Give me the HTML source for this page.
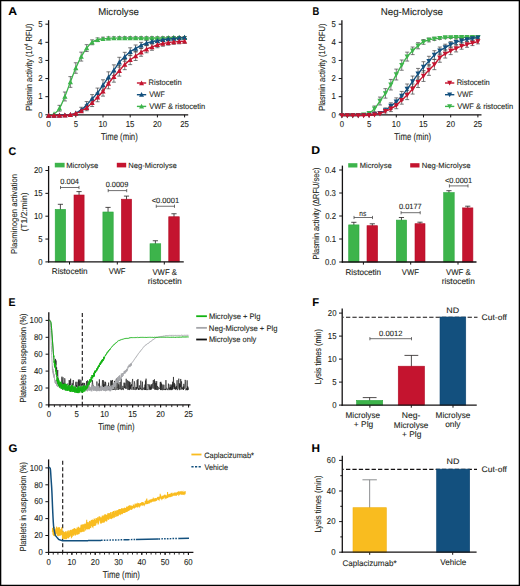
<!DOCTYPE html>
<html><head><meta charset="utf-8"><style>
html,body{margin:0;padding:0;background:#fff;width:520px;height:586px;overflow:hidden;}
svg{display:block;}
text{font-family:"Liberation Sans", sans-serif;text-rendering:geometricPrecision;stroke:#231f20;stroke-width:0.1px;}
</style></head><body>
<svg width="520" height="586" viewBox="0 0 520 586" font-family='"Liberation Sans", sans-serif' fill="#231f20" text-rendering="geometricPrecision">
<text x="8.2" y="14.65" font-size="11.2" textLength="8.83" lengthAdjust="spacingAndGlyphs" font-weight="bold" fill="#000">A</text>
<text x="98.21" y="14.7" font-size="9.7" textLength="40.62" lengthAdjust="spacingAndGlyphs">Microlyse</text>
<line x1="48.6" y1="20.2" x2="48.6" y2="115.45" stroke="#141213" stroke-width="1.3"/>
<line x1="45.4" y1="114.8" x2="48.6" y2="114.8" stroke="#141213" stroke-width="1"/>
<text x="38.17" y="117.55" font-size="8.6" textLength="4.34" lengthAdjust="spacingAndGlyphs">0</text>
<line x1="45.4" y1="96.68" x2="48.6" y2="96.68" stroke="#141213" stroke-width="1"/>
<text x="38.24" y="99.43" font-size="8.6" textLength="4.34" lengthAdjust="spacingAndGlyphs">1</text>
<line x1="45.4" y1="78.56" x2="48.6" y2="78.56" stroke="#141213" stroke-width="1"/>
<text x="38.25" y="81.31" font-size="8.6" textLength="4.34" lengthAdjust="spacingAndGlyphs">2</text>
<line x1="45.4" y1="60.44" x2="48.6" y2="60.44" stroke="#141213" stroke-width="1"/>
<text x="38.2" y="63.19" font-size="8.6" textLength="4.34" lengthAdjust="spacingAndGlyphs">3</text>
<line x1="45.4" y1="42.32" x2="48.6" y2="42.32" stroke="#141213" stroke-width="1"/>
<text x="38.09" y="45.07" font-size="8.6" textLength="4.34" lengthAdjust="spacingAndGlyphs">4</text>
<line x1="45.4" y1="24.2" x2="48.6" y2="24.2" stroke="#141213" stroke-width="1"/>
<text x="38.19" y="26.95" font-size="8.6" textLength="4.34" lengthAdjust="spacingAndGlyphs">5</text>
<line x1="47.95" y1="114.8" x2="188.2" y2="114.8" stroke="#141213" stroke-width="1.3"/>
<line x1="48.6" y1="114.8" x2="48.6" y2="117.4" stroke="#141213" stroke-width="1"/>
<text x="46.43" y="127" font-size="8.6" textLength="4.34" lengthAdjust="spacingAndGlyphs">0</text>
<line x1="75.8" y1="114.8" x2="75.8" y2="117.4" stroke="#141213" stroke-width="1"/>
<text x="73.64" y="127" font-size="8.6" textLength="4.34" lengthAdjust="spacingAndGlyphs">5</text>
<line x1="103" y1="114.8" x2="103" y2="117.4" stroke="#141213" stroke-width="1"/>
<text x="98.52" y="127" font-size="8.6" textLength="8.68" lengthAdjust="spacingAndGlyphs">10</text>
<line x1="130.2" y1="114.8" x2="130.2" y2="117.4" stroke="#141213" stroke-width="1"/>
<text x="125.73" y="127" font-size="8.6" textLength="8.68" lengthAdjust="spacingAndGlyphs">15</text>
<line x1="157.4" y1="114.8" x2="157.4" y2="117.4" stroke="#141213" stroke-width="1"/>
<text x="153.02" y="127" font-size="8.6" textLength="8.68" lengthAdjust="spacingAndGlyphs">20</text>
<line x1="184.6" y1="114.8" x2="184.6" y2="117.4" stroke="#141213" stroke-width="1"/>
<text x="180.23" y="127" font-size="8.6" textLength="8.68" lengthAdjust="spacingAndGlyphs">25</text>
<text x="101.03" y="139.8" font-size="10" textLength="36.75" lengthAdjust="spacingAndGlyphs">Time (min)</text>
<text transform="translate(31.6 110.2) rotate(-90)" x="-0.63" y="0" font-size="8.9" textLength="87.32" lengthAdjust="spacingAndGlyphs">Plasmin activity (10<tspan font-size="5.3" dy="-3.4">4</tspan><tspan dy="3.4"> RFU)</tspan></text>
<path d="M59.48 105.34V111.16M57.48 105.34H61.48M57.48 111.16H61.48M64.92 92.02V100.93M62.92 92.02H66.92M62.92 100.93H66.92M70.36 76.62V87.34M68.36 76.62H72.36M68.36 87.34H72.36M75.8 62.77V73.28M73.8 62.77H77.8M73.8 73.28H77.8M81.24 52.15V61.07M79.24 52.15H83.24M79.24 61.07H83.24M86.68 44.67V51.52M84.68 44.67H88.68M84.68 51.52H88.68M92.12 39.85V44.74M90.12 39.85H94.12M90.12 44.74H94.12M97.56 37.88V41.64M95.56 37.88H99.56M95.56 41.64H99.56M103 37.22V40.48M101 37.22H105M101 40.48H105M108.44 36.85V39.76M106.44 36.85H110.44M106.44 39.76H110.44M113.88 36.74V39.51M111.88 36.74H115.88M111.88 39.51H115.88M119.32 36.63V39.26M117.32 36.63H121.32M117.32 39.26H121.32M124.76 36.63V39.26M122.76 36.63H126.76M122.76 39.26H126.76M130.2 36.63V39.26M128.2 36.63H132.2M128.2 39.26H132.2M135.64 36.63V39.26M133.64 36.63H137.64M133.64 39.26H137.64M141.08 36.63V39.26M139.08 36.63H143.08M139.08 39.26H143.08M146.52 36.63V39.26M144.52 36.63H148.52M144.52 39.26H148.52M151.96 36.63V39.26M149.96 36.63H153.96M149.96 39.26H153.96M157.4 36.63V39.26M155.4 36.63H159.4M155.4 39.26H159.4M162.84 36.63V39.26M160.84 36.63H164.84M160.84 39.26H164.84M168.28 36.54V38.99M166.28 36.54H170.28M166.28 38.99H170.28M173.72 36.5V38.67M171.72 36.5H175.72M171.72 38.67H175.72M179.16 36.5V38.67M177.16 36.5H181.16M177.16 38.67H181.16M184.6 36.5V38.67M182.6 36.5H186.6M182.6 38.67H186.6" stroke="#414042" stroke-width="0.7" fill="none"/>
<path d="M81.24 107.27V112.5M79.24 107.27H83.24M79.24 112.5H83.24M86.68 101.57V108.41M84.68 101.57H88.68M84.68 108.41H88.68M92.12 94.62V103.04M90.12 94.62H94.12M90.12 103.04H94.12M97.56 88.07V97.63M95.56 88.07H99.56M95.56 97.63H99.56M103 79.8V90.32M101 79.8H105M101 90.32H105M108.44 71.83V82.7M106.44 71.83H110.44M106.44 82.7H110.44M113.88 64.86V75.54M111.88 64.86H115.88M111.88 75.54H115.88M119.32 57.3V67.16M117.32 57.3H121.32M117.32 67.16H121.32M124.76 52.32V61.26M122.76 52.32H126.76M122.76 61.26H126.76M130.2 47.81V55.63M128.2 47.81H132.2M128.2 55.63H132.2M135.64 44.98V51.93M133.64 44.98H137.64M133.64 51.93H137.64M141.08 42.38V48.37M139.08 42.38H143.08M139.08 48.37H143.08M146.52 40.44V45.6M144.52 40.44H148.52M144.52 45.6H148.52M151.96 39.28V43.86M149.96 39.28H153.96M149.96 43.86H153.96M157.4 38.57V42.76M155.4 38.57H159.4M155.4 42.76H159.4M162.84 37.88V41.64M160.84 37.88H164.84M160.84 41.64H164.84M168.28 37.35V40.72M166.28 37.35H170.28M166.28 40.72H170.28M173.72 36.97V40.01M171.72 36.97H175.72M171.72 40.01H175.72M179.16 36.63V39.26M177.16 36.63H181.16M177.16 39.26H181.16M184.6 36.5V38.67M182.6 36.5H186.6M182.6 38.67H186.6" stroke="#414042" stroke-width="0.7" fill="none"/>
<path d="M86.68 104.71V110.71M84.68 104.71H88.68M84.68 110.71H88.68M92.12 99.09V106.54M90.12 99.09H94.12M90.12 106.54H94.12M97.56 93.02V101.74M95.56 93.02H99.56M95.56 101.74H99.56M103 86.32V96.12M101 86.32H105M101 96.12H105M108.44 78.11V88.75M106.44 78.11H110.44M106.44 88.75H110.44M113.88 71.29V82.16M111.88 71.29H115.88M111.88 82.16H115.88M119.32 65.39V76.1M117.32 65.39H121.32M117.32 76.1H121.32M124.76 59.5V69.67M122.76 59.5H126.76M122.76 69.67H126.76M130.2 55.12V64.62M128.2 55.12H132.2M128.2 64.62H132.2M135.64 51.67V60.47M133.64 51.67H137.64M133.64 60.47H137.64M141.08 48.28V56.24M139.08 48.28H143.08M139.08 56.24H143.08M146.52 45.6V52.76M144.52 45.6H148.52M144.52 52.76H148.52M151.96 43.75V50.27M149.96 43.75H153.96M149.96 50.27H153.96M157.4 41.92V47.74M155.4 41.92H159.4M155.4 47.74H159.4M162.84 40.88V46.25M160.84 40.88H164.84M160.84 46.25H164.84M168.28 40.15V45.17M166.28 40.15H170.28M166.28 45.17H170.28M173.72 39.56V44.3M171.72 39.56H175.72M171.72 44.3H175.72M179.16 39.28V43.86M177.16 39.28H181.16M177.16 43.86H181.16M184.6 38.99V43.42M182.6 38.99H186.6M182.6 43.42H186.6" stroke="#414042" stroke-width="0.7" fill="none"/>
<path d="M48.6 115.5C49.51 115.26 52.23 115.26 54.04 114.05C55.85 112.84 57.67 111.18 59.48 108.25C61.29 105.32 63.11 100.85 64.92 96.47C66.73 92.09 68.55 86.72 70.36 81.98C72.17 77.24 73.99 72.25 75.8 68.03C77.61 63.8 79.43 59.93 81.24 56.61C83.05 53.29 84.87 50.48 86.68 48.09C88.49 45.71 90.31 43.68 92.12 42.3C93.93 40.91 95.75 40.33 97.56 39.76C99.37 39.18 101.19 39.09 103 38.85C104.81 38.61 106.63 38.43 108.44 38.31C110.25 38.19 112.07 38.19 113.88 38.13C115.69 38.07 117.51 37.98 119.32 37.95C121.13 37.92 122.95 37.95 124.76 37.95C126.57 37.95 128.39 37.95 130.2 37.95C132.01 37.95 133.83 37.95 135.64 37.95C137.45 37.95 139.27 37.95 141.08 37.95C142.89 37.95 144.71 37.95 146.52 37.95C148.33 37.95 150.15 37.95 151.96 37.95C153.77 37.95 155.59 37.95 157.4 37.95C159.21 37.95 161.03 37.98 162.84 37.95C164.65 37.92 166.47 37.83 168.28 37.77C170.09 37.7 171.91 37.61 173.72 37.58C175.53 37.55 177.35 37.58 179.16 37.58C180.97 37.58 183.69 37.58 184.6 37.58" stroke="#3db44b" stroke-width="1.35" fill="none"/>
<path d="M48.6 112.78L51.2 117.72L46 117.72ZM54.04 111.33L56.64 116.27L51.44 116.27ZM59.48 105.53L62.08 110.47L56.88 110.47ZM64.92 93.76L67.52 98.7L62.32 98.7ZM70.36 79.26L72.96 84.2L67.76 84.2ZM75.8 65.31L78.4 70.25L73.2 70.25ZM81.24 53.89L83.84 58.83L78.64 58.83ZM86.68 45.38L89.28 50.32L84.08 50.32ZM92.12 39.58L94.72 44.52L89.52 44.52ZM97.56 37.04L100.16 41.98L94.96 41.98ZM103 36.14L105.6 41.08L100.4 41.08ZM108.44 35.59L111.04 40.53L105.84 40.53ZM113.88 35.41L116.48 40.35L111.28 40.35ZM119.32 35.23L121.92 40.17L116.72 40.17ZM124.76 35.23L127.36 40.17L122.16 40.17ZM130.2 35.23L132.8 40.17L127.6 40.17ZM135.64 35.23L138.24 40.17L133.04 40.17ZM141.08 35.23L143.68 40.17L138.48 40.17ZM146.52 35.23L149.12 40.17L143.92 40.17ZM151.96 35.23L154.56 40.17L149.36 40.17ZM157.4 35.23L160 40.17L154.8 40.17ZM162.84 35.23L165.44 40.17L160.24 40.17ZM168.28 35.05L170.88 39.99L165.68 39.99ZM173.72 34.87L176.32 39.81L171.12 39.81ZM179.16 34.87L181.76 39.81L176.56 39.81ZM184.6 34.87L187.2 39.81L182 39.81Z" stroke="none" stroke-width="1" fill="#3db44b"/>
<path d="M48.6 115.5C49.51 115.5 52.23 115.53 54.04 115.5C55.85 115.47 57.67 115.38 59.48 115.32C61.29 115.26 63.11 115.26 64.92 115.14C66.73 115.02 68.55 114.93 70.36 114.59C72.17 114.26 73.99 113.93 75.8 113.14C77.61 112.36 79.43 111.24 81.24 109.88C83.05 108.52 84.87 106.83 86.68 104.99C88.49 103.15 90.31 100.85 92.12 98.83C93.93 96.81 95.75 95.15 97.56 92.85C99.37 90.55 101.19 87.66 103 85.06C104.81 82.46 106.63 79.74 108.44 77.27C110.25 74.79 112.07 72.71 113.88 70.2C115.69 67.69 117.51 64.46 119.32 62.23C121.13 59.99 122.95 58.54 124.76 56.79C126.57 55.04 128.39 53.11 130.2 51.72C132.01 50.33 133.83 49.51 135.64 48.46C137.45 47.4 139.27 46.28 141.08 45.38C142.89 44.47 144.71 43.65 146.52 43.02C148.33 42.39 150.15 41.96 151.96 41.57C153.77 41.18 155.59 40.97 157.4 40.66C159.21 40.36 161.03 40.03 162.84 39.76C164.65 39.49 166.47 39.25 168.28 39.03C170.09 38.82 171.91 38.67 173.72 38.49C175.53 38.31 177.35 38.1 179.16 37.95C180.97 37.8 183.69 37.64 184.6 37.58" stroke="#13507e" stroke-width="1.35" fill="none"/>
<path d="M48.6 112.78L51.2 117.72L46 117.72ZM54.04 112.78L56.64 117.72L51.44 117.72ZM59.48 112.6L62.08 117.54L56.88 117.54ZM64.92 112.42L67.52 117.36L62.32 117.36ZM70.36 111.88L72.96 116.82L67.76 116.82ZM75.8 110.43L78.4 115.37L73.2 115.37ZM81.24 107.17L83.84 112.11L78.64 112.11ZM86.68 102.27L89.28 107.21L84.08 107.21ZM92.12 96.11L94.72 101.05L89.52 101.05ZM97.56 90.13L100.16 95.07L94.96 95.07ZM103 82.34L105.6 87.28L100.4 87.28ZM108.44 74.55L111.04 79.49L105.84 79.49ZM113.88 67.48L116.48 72.42L111.28 72.42ZM119.32 59.51L121.92 64.45L116.72 64.45ZM124.76 54.07L127.36 59.01L122.16 59.01ZM130.2 49L132.8 53.94L127.6 53.94ZM135.64 45.74L138.24 50.68L133.04 50.68ZM141.08 42.66L143.68 47.6L138.48 47.6ZM146.52 40.3L149.12 45.24L143.92 45.24ZM151.96 38.85L154.56 43.79L149.36 43.79ZM157.4 37.95L160 42.89L154.8 42.89ZM162.84 37.04L165.44 41.98L160.24 41.98ZM168.28 36.32L170.88 41.26L165.68 41.26ZM173.72 35.77L176.32 40.71L171.12 40.71ZM179.16 35.23L181.76 40.17L176.56 40.17ZM184.6 34.87L187.2 39.81L182 39.81Z" stroke="none" stroke-width="1" fill="#13507e"/>
<path d="M48.6 115.5C49.51 115.5 52.23 115.5 54.04 115.5C55.85 115.5 57.67 115.53 59.48 115.5C61.29 115.47 63.11 115.44 64.92 115.32C66.73 115.2 68.55 115.08 70.36 114.78C72.17 114.47 73.99 114.14 75.8 113.51C77.61 112.87 79.43 111.94 81.24 110.97C83.05 110 84.87 109.07 86.68 107.71C88.49 106.35 90.31 104.54 92.12 102.82C93.93 101.09 95.75 99.31 97.56 97.38C99.37 95.45 101.19 93.54 103 91.22C104.81 88.89 106.63 85.84 108.44 83.43C110.25 81.01 112.07 78.84 113.88 76.72C115.69 74.61 117.51 72.77 119.32 70.74C121.13 68.72 122.95 66.39 124.76 64.58C126.57 62.77 128.39 61.29 130.2 59.87C132.01 58.45 133.83 57.33 135.64 56.07C137.45 54.8 139.27 53.41 141.08 52.26C142.89 51.11 144.71 50.06 146.52 49.18C148.33 48.3 150.15 47.73 151.96 47.01C153.77 46.28 155.59 45.41 157.4 44.83C159.21 44.26 161.03 43.93 162.84 43.56C164.65 43.2 166.47 42.93 168.28 42.66C170.09 42.39 171.91 42.11 173.72 41.93C175.53 41.75 177.35 41.69 179.16 41.57C180.97 41.45 183.69 41.27 184.6 41.21" stroke="#c4142f" stroke-width="1.35" fill="none"/>
<path d="M48.6 112.78L51.2 117.72L46 117.72ZM54.04 112.78L56.64 117.72L51.44 117.72ZM59.48 112.78L62.08 117.72L56.88 117.72ZM64.92 112.6L67.52 117.54L62.32 117.54ZM70.36 112.06L72.96 117L67.76 117ZM75.8 110.79L78.4 115.73L73.2 115.73ZM81.24 108.25L83.84 113.19L78.64 113.19ZM86.68 104.99L89.28 109.93L84.08 109.93ZM92.12 100.1L94.72 105.04L89.52 105.04ZM97.56 94.66L100.16 99.6L94.96 99.6ZM103 88.5L105.6 93.44L100.4 93.44ZM108.44 80.71L111.04 85.65L105.84 85.65ZM113.88 74.01L116.48 78.95L111.28 78.95ZM119.32 68.03L121.92 72.97L116.72 72.97ZM124.76 61.87L127.36 66.81L122.16 66.81ZM130.2 57.15L132.8 62.09L127.6 62.09ZM135.64 53.35L138.24 58.29L133.04 58.29ZM141.08 49.54L143.68 54.48L138.48 54.48ZM146.52 46.46L149.12 51.4L143.92 51.4ZM151.96 44.29L154.56 49.23L149.36 49.23ZM157.4 42.11L160 47.05L154.8 47.05ZM162.84 40.85L165.44 45.79L160.24 45.79ZM168.28 39.94L170.88 44.88L165.68 44.88ZM173.72 39.22L176.32 44.16L171.12 44.16ZM179.16 38.85L181.76 43.79L176.56 43.79ZM184.6 38.49L187.2 43.43L182 43.43Z" stroke="none" stroke-width="1" fill="#c4142f"/>
<line x1="136.9" y1="83" x2="146.2" y2="83" stroke="#c4142f" stroke-width="1.4"/>
<path d="M141.55 80.39L144.05 85.14L139.05 85.14Z" stroke="none" stroke-width="1" fill="#c4142f"/>
<text x="148.58" y="85.2" font-size="7.85" textLength="33.11" lengthAdjust="spacingAndGlyphs">Ristocetin</text>
<line x1="136.9" y1="94.7" x2="146.2" y2="94.7" stroke="#13507e" stroke-width="1.4"/>
<path d="M141.55 92.09L144.05 96.84L139.05 96.84Z" stroke="none" stroke-width="1" fill="#13507e"/>
<text x="149.17" y="96.85" font-size="7.85" textLength="15.71" lengthAdjust="spacingAndGlyphs">VWF</text>
<line x1="136.9" y1="106.4" x2="146.2" y2="106.4" stroke="#3db44b" stroke-width="1.4"/>
<path d="M141.55 103.79L144.05 108.54L139.05 108.54Z" stroke="none" stroke-width="1" fill="#3db44b"/>
<text x="149.17" y="108.5" font-size="7.85" textLength="55.92" lengthAdjust="spacingAndGlyphs">VWF &amp; ristocetin</text>
<text x="312.47" y="14.65" font-size="11.2" textLength="6.75" lengthAdjust="spacingAndGlyphs" font-weight="bold" fill="#000">B</text>
<text x="380.7" y="14.7" font-size="9.7" textLength="62.33" lengthAdjust="spacingAndGlyphs">Neg-Microlyse</text>
<line x1="341.9" y1="20.2" x2="341.9" y2="115.45" stroke="#141213" stroke-width="1.3"/>
<line x1="338.7" y1="114.8" x2="341.9" y2="114.8" stroke="#141213" stroke-width="1"/>
<text x="331.47" y="117.55" font-size="8.6" textLength="4.34" lengthAdjust="spacingAndGlyphs">0</text>
<line x1="338.7" y1="96.68" x2="341.9" y2="96.68" stroke="#141213" stroke-width="1"/>
<text x="331.54" y="99.43" font-size="8.6" textLength="4.34" lengthAdjust="spacingAndGlyphs">1</text>
<line x1="338.7" y1="78.56" x2="341.9" y2="78.56" stroke="#141213" stroke-width="1"/>
<text x="331.55" y="81.31" font-size="8.6" textLength="4.34" lengthAdjust="spacingAndGlyphs">2</text>
<line x1="338.7" y1="60.44" x2="341.9" y2="60.44" stroke="#141213" stroke-width="1"/>
<text x="331.5" y="63.19" font-size="8.6" textLength="4.34" lengthAdjust="spacingAndGlyphs">3</text>
<line x1="338.7" y1="42.32" x2="341.9" y2="42.32" stroke="#141213" stroke-width="1"/>
<text x="331.39" y="45.07" font-size="8.6" textLength="4.34" lengthAdjust="spacingAndGlyphs">4</text>
<line x1="338.7" y1="24.2" x2="341.9" y2="24.2" stroke="#141213" stroke-width="1"/>
<text x="331.49" y="26.95" font-size="8.6" textLength="4.34" lengthAdjust="spacingAndGlyphs">5</text>
<line x1="341.25" y1="114.8" x2="481.5" y2="114.8" stroke="#141213" stroke-width="1.3"/>
<line x1="341.9" y1="114.8" x2="341.9" y2="117.4" stroke="#141213" stroke-width="1"/>
<text x="339.73" y="127" font-size="8.6" textLength="4.34" lengthAdjust="spacingAndGlyphs">0</text>
<line x1="369.1" y1="114.8" x2="369.1" y2="117.4" stroke="#141213" stroke-width="1"/>
<text x="366.94" y="127" font-size="8.6" textLength="4.34" lengthAdjust="spacingAndGlyphs">5</text>
<line x1="396.3" y1="114.8" x2="396.3" y2="117.4" stroke="#141213" stroke-width="1"/>
<text x="391.82" y="127" font-size="8.6" textLength="8.68" lengthAdjust="spacingAndGlyphs">10</text>
<line x1="423.5" y1="114.8" x2="423.5" y2="117.4" stroke="#141213" stroke-width="1"/>
<text x="419.03" y="127" font-size="8.6" textLength="8.68" lengthAdjust="spacingAndGlyphs">15</text>
<line x1="450.7" y1="114.8" x2="450.7" y2="117.4" stroke="#141213" stroke-width="1"/>
<text x="446.32" y="127" font-size="8.6" textLength="8.68" lengthAdjust="spacingAndGlyphs">20</text>
<line x1="477.9" y1="114.8" x2="477.9" y2="117.4" stroke="#141213" stroke-width="1"/>
<text x="473.53" y="127" font-size="8.6" textLength="8.68" lengthAdjust="spacingAndGlyphs">25</text>
<text x="394.33" y="139.8" font-size="10" textLength="36.75" lengthAdjust="spacingAndGlyphs">Time (min)</text>
<text transform="translate(324.9 110.2) rotate(-90)" x="-0.63" y="0" font-size="8.9" textLength="87.32" lengthAdjust="spacingAndGlyphs">Plasmin activity (10<tspan font-size="5.3" dy="-3.4">4</tspan><tspan dy="3.4"> RFU)</tspan></text>
<path d="M374.54 105.98V111.61M372.54 105.98H376.54M372.54 111.61H376.54M379.98 97.05V104.96M377.98 97.05H381.98M377.98 104.96H381.98M385.42 88.66V98.13M383.42 88.66H387.42M383.42 98.13H387.42M390.86 79.42V89.97M388.86 79.42H392.86M388.86 89.97H392.86M396.3 69.12V79.97M394.3 69.12H398.3M394.3 79.97H398.3M401.74 60.01V70.24M399.74 60.01H403.74M399.74 70.24H403.74M407.18 52.15V61.07M405.18 52.15H409.18M405.18 61.07H409.18M412.62 47.02V54.61M410.62 47.02H414.62M410.62 54.61H414.62M418.06 42.68V48.8M416.06 42.68H420.06M416.06 48.8H420.06M423.5 39.56V44.3M421.5 39.56H425.5M421.5 44.3H425.5M428.94 38.02V41.86M426.94 38.02H430.94M426.94 41.86H430.94M434.38 37.22V40.48M432.38 37.22H436.38M432.38 40.48H436.38M439.82 36.74V39.51M437.82 36.74H441.82M437.82 39.51H441.82M445.26 36.5V38.67M443.26 36.5H447.26M443.26 38.67H447.26M450.7 36.32V38.49M448.7 36.32H452.7M448.7 38.49H452.7M456.14 36.13V38.31M454.14 36.13H458.14M454.14 38.31H458.14M461.58 36.13V38.31M459.58 36.13H463.58M459.58 38.31H463.58M467.02 36.13V38.31M465.02 36.13H469.02M465.02 38.31H469.02M472.46 36.13V38.31M470.46 36.13H474.46M470.46 38.31H474.46M477.9 36.13V38.31M475.9 36.13H479.9M475.9 38.31H479.9" stroke="#414042" stroke-width="0.7" fill="none"/>
<path d="M385.42 107.91V112.94M383.42 107.91H387.42M383.42 112.94H387.42M390.86 102.82V109.34M388.86 102.82H392.86M388.86 109.34H392.86M396.3 97.86V105.59M394.3 97.86H398.3M394.3 105.59H398.3M401.74 91.42V100.44M399.74 91.42H403.74M399.74 100.44H403.74M407.18 83.99V94.09M405.18 83.99H409.18M405.18 94.09H409.18M412.62 76.06V86.81M410.62 76.06H414.62M410.62 86.81H414.62M418.06 68.41V79.24M416.06 68.41H420.06M416.06 79.24H420.06M423.5 61.73V72.15M421.5 61.73H425.5M421.5 72.15H425.5M428.94 56.29V65.99M426.94 56.29H430.94M426.94 65.99H430.94M434.38 50.69V59.27M432.38 50.69H436.38M432.38 59.27H436.38M439.82 47.02V54.61M437.82 47.02H441.82M437.82 54.61H441.82M445.26 44.21V50.89M443.26 44.21H447.26M443.26 50.89H447.26M450.7 41.62V47.31M448.7 41.62H452.7M448.7 47.31H452.7M456.14 39.85V44.74M454.14 39.85H458.14M454.14 44.74H458.14M461.58 38.57V42.76M459.58 38.57H463.58M459.58 42.76H463.58M467.02 37.61V41.18M465.02 37.61H469.02M465.02 41.18H469.02M472.46 36.97V40.01M470.46 36.97H474.46M470.46 40.01H474.46M477.9 36.54V38.99M475.9 36.54H479.9M475.9 38.99H479.9" stroke="#414042" stroke-width="0.7" fill="none"/>
<path d="M390.86 105.98V111.61M388.86 105.98H392.86M388.86 111.61H392.86M396.3 101.98V108.72M394.3 101.98H398.3M394.3 108.72H398.3M401.74 96.03V104.16M399.74 96.03H403.74M399.74 104.16H403.74M407.18 90.43V99.62M405.18 90.43H409.18M405.18 99.62H409.18M412.62 83.99V94.09M410.62 83.99H414.62M410.62 94.09H414.62M418.06 76.8V87.52M416.06 76.8H420.06M416.06 87.52H420.06M423.5 70.56V81.43M421.5 70.56H425.5M421.5 81.43H425.5M428.94 64.69V75.35M426.94 64.69H430.94M426.94 75.35H430.94M434.38 59.5V69.67M432.38 59.5H436.38M432.38 69.67H436.38M439.82 53.14V62.26M437.82 53.14H441.82M437.82 62.26H441.82M445.26 49.72V58.06M443.26 49.72H447.26M443.26 58.06H447.26M450.7 47.02V54.61M448.7 47.02H452.7M448.7 54.61H452.7M456.14 44.98V51.93M454.14 44.98H458.14M454.14 51.93H458.14M461.58 42.98V49.22M459.58 42.98H463.58M459.58 49.22H463.58M467.02 41.62V47.31M465.02 41.62H469.02M465.02 47.31H469.02M472.46 40.44V45.6M470.46 40.44H474.46M470.46 45.6H474.46M477.9 39.28V43.86M475.9 39.28H479.9M475.9 43.86H479.9" stroke="#414042" stroke-width="0.7" fill="none"/>
<path d="M341.9 115.5C342.81 115.5 345.53 115.5 347.34 115.5C349.15 115.5 350.97 115.53 352.78 115.5C354.59 115.47 356.41 115.44 358.22 115.32C360.03 115.2 361.85 115.14 363.66 114.78C365.47 114.41 367.29 114.14 369.1 113.14C370.91 112.15 372.73 110.82 374.54 108.8C376.35 106.77 378.17 103.57 379.98 101C381.79 98.44 383.61 96.11 385.42 93.39C387.23 90.68 389.05 87.84 390.86 84.7C392.67 81.56 394.49 77.81 396.3 74.55C398.11 71.29 399.93 68.12 401.74 65.13C403.55 62.14 405.37 59 407.18 56.61C408.99 54.22 410.81 52.62 412.62 50.81C414.43 49 416.25 47.22 418.06 45.74C419.87 44.26 421.69 42.9 423.5 41.93C425.31 40.97 427.13 40.45 428.94 39.94C430.75 39.43 432.57 39.15 434.38 38.85C436.19 38.55 438.01 38.34 439.82 38.13C441.63 37.92 443.45 37.7 445.26 37.58C447.07 37.46 448.89 37.46 450.7 37.4C452.51 37.34 454.33 37.25 456.14 37.22C457.95 37.19 459.77 37.22 461.58 37.22C463.39 37.22 465.21 37.22 467.02 37.22C468.83 37.22 470.65 37.22 472.46 37.22C474.27 37.22 476.99 37.22 477.9 37.22" stroke="#3db44b" stroke-width="1.35" fill="none"/>
<path d="M341.9 118.22L344.5 113.28L339.3 113.28ZM347.34 118.22L349.94 113.28L344.74 113.28ZM352.78 118.22L355.38 113.28L350.18 113.28ZM358.22 118.04L360.82 113.1L355.62 113.1ZM363.66 117.49L366.26 112.55L361.06 112.55ZM369.1 115.86L371.7 110.92L366.5 110.92ZM374.54 111.51L377.14 106.57L371.94 106.57ZM379.98 103.72L382.58 98.78L377.38 98.78ZM385.42 96.11L388.02 91.17L382.82 91.17ZM390.86 87.41L393.46 82.47L388.26 82.47ZM396.3 77.27L398.9 72.33L393.7 72.33ZM401.74 67.84L404.34 62.9L399.14 62.9ZM407.18 59.33L409.78 54.39L404.58 54.39ZM412.62 53.53L415.22 48.59L410.02 48.59ZM418.06 48.45L420.66 43.52L415.46 43.52ZM423.5 44.65L426.1 39.71L420.9 39.71ZM428.94 42.66L431.54 37.72L426.34 37.72ZM434.38 41.57L436.98 36.63L431.78 36.63ZM439.82 40.84L442.42 35.9L437.22 35.9ZM445.26 40.3L447.86 35.36L442.66 35.36ZM450.7 40.12L453.3 35.18L448.1 35.18ZM456.14 39.94L458.74 35L453.54 35ZM461.58 39.94L464.18 35L458.98 35ZM467.02 39.94L469.62 35L464.42 35ZM472.46 39.94L475.06 35L469.86 35ZM477.9 39.94L480.5 35L475.3 35Z" stroke="none" stroke-width="1" fill="#3db44b"/>
<path d="M341.9 115.5C342.81 115.5 345.53 115.5 347.34 115.5C349.15 115.5 350.97 115.5 352.78 115.5C354.59 115.5 356.41 115.53 358.22 115.5C360.03 115.47 361.85 115.41 363.66 115.32C365.47 115.23 367.29 115.14 369.1 114.96C370.91 114.78 372.73 114.53 374.54 114.23C376.35 113.93 378.17 113.78 379.98 113.14C381.79 112.51 383.61 111.6 385.42 110.43C387.23 109.25 389.05 107.53 390.86 106.08C392.67 104.63 394.49 103.42 396.3 101.73C398.11 100.04 399.93 98.04 401.74 95.93C403.55 93.82 405.37 91.46 407.18 89.04C408.99 86.63 410.81 83.97 412.62 81.43C414.43 78.9 416.25 76.24 418.06 73.82C419.87 71.41 421.69 69.05 423.5 66.94C425.31 64.82 427.13 63.13 428.94 61.14C430.75 59.15 432.57 56.7 434.38 54.98C436.19 53.26 438.01 52.05 439.82 50.81C441.63 49.57 443.45 48.61 445.26 47.55C447.07 46.49 448.89 45.35 450.7 44.47C452.51 43.59 454.33 42.93 456.14 42.3C457.95 41.66 459.77 41.15 461.58 40.66C463.39 40.18 465.21 39.76 467.02 39.4C468.83 39.03 470.65 38.76 472.46 38.49C474.27 38.22 476.99 37.89 477.9 37.77" stroke="#13507e" stroke-width="1.35" fill="none"/>
<path d="M341.9 118.22L344.5 113.28L339.3 113.28ZM347.34 118.22L349.94 113.28L344.74 113.28ZM352.78 118.22L355.38 113.28L350.18 113.28ZM358.22 118.22L360.82 113.28L355.62 113.28ZM363.66 118.04L366.26 113.1L361.06 113.1ZM369.1 117.67L371.7 112.73L366.5 112.73ZM374.54 116.95L377.14 112.01L371.94 112.01ZM379.98 115.86L382.58 110.92L377.38 110.92ZM385.42 113.14L388.02 108.2L382.82 108.2ZM390.86 108.79L393.46 103.85L388.26 103.85ZM396.3 104.45L398.9 99.51L393.7 99.51ZM401.74 98.65L404.34 93.71L399.14 93.71ZM407.18 91.76L409.78 86.82L404.58 86.82ZM412.62 84.15L415.22 79.21L410.02 79.21ZM418.06 76.54L420.66 71.6L415.46 71.6ZM423.5 69.66L426.1 64.72L420.9 64.72ZM428.94 63.86L431.54 58.92L426.34 58.92ZM434.38 57.7L436.98 52.76L431.78 52.76ZM439.82 53.53L442.42 48.59L437.22 48.59ZM445.26 50.27L447.86 45.33L442.66 45.33ZM450.7 47.19L453.3 42.25L448.1 42.25ZM456.14 45.01L458.74 40.07L453.54 40.07ZM461.58 43.38L464.18 38.44L458.98 38.44ZM467.02 42.11L469.62 37.17L464.42 37.17ZM472.46 41.21L475.06 36.27L469.86 36.27ZM477.9 40.48L480.5 35.54L475.3 35.54Z" stroke="none" stroke-width="1" fill="#13507e"/>
<path d="M341.9 115.5C342.81 115.5 345.53 115.5 347.34 115.5C349.15 115.5 350.97 115.5 352.78 115.5C354.59 115.5 356.41 115.5 358.22 115.5C360.03 115.5 361.85 115.53 363.66 115.5C365.47 115.47 367.29 115.44 369.1 115.32C370.91 115.2 372.73 115.05 374.54 114.78C376.35 114.5 378.17 114.26 379.98 113.69C381.79 113.11 383.61 112.15 385.42 111.33C387.23 110.52 389.05 109.79 390.86 108.8C392.67 107.8 394.49 106.8 396.3 105.35C398.11 103.9 399.93 101.82 401.74 100.1C403.55 98.38 405.37 96.87 407.18 95.02C408.99 93.18 410.81 91.19 412.62 89.04C414.43 86.9 416.25 84.33 418.06 82.16C419.87 79.98 421.69 78.02 423.5 76C425.31 73.98 427.13 71.92 428.94 70.02C430.75 68.12 432.57 66.64 434.38 64.58C436.19 62.53 438.01 59.48 439.82 57.7C441.63 55.92 443.45 55.04 445.26 53.89C447.07 52.74 448.89 51.72 450.7 50.81C452.51 49.91 454.33 49.24 456.14 48.46C457.95 47.67 459.77 46.76 461.58 46.1C463.39 45.44 465.21 44.98 467.02 44.47C468.83 43.96 470.65 43.5 472.46 43.02C474.27 42.54 476.99 41.81 477.9 41.57" stroke="#c4142f" stroke-width="1.35" fill="none"/>
<path d="M341.9 118.22L344.5 113.28L339.3 113.28ZM347.34 118.22L349.94 113.28L344.74 113.28ZM352.78 118.22L355.38 113.28L350.18 113.28ZM358.22 118.22L360.82 113.28L355.62 113.28ZM363.66 118.22L366.26 113.28L361.06 113.28ZM369.1 118.04L371.7 113.1L366.5 113.1ZM374.54 117.49L377.14 112.55L371.94 112.55ZM379.98 116.41L382.58 111.47L377.38 111.47ZM385.42 114.05L388.02 109.11L382.82 109.11ZM390.86 111.51L393.46 106.57L388.26 106.57ZM396.3 108.07L398.9 103.13L393.7 103.13ZM401.74 102.81L404.34 97.88L399.14 97.88ZM407.18 97.74L409.78 92.8L404.58 92.8ZM412.62 91.76L415.22 86.82L410.02 86.82ZM418.06 84.88L420.66 79.94L415.46 79.94ZM423.5 78.72L426.1 73.78L420.9 73.78ZM428.94 72.74L431.54 67.8L426.34 67.8ZM434.38 67.3L436.98 62.36L431.78 62.36ZM439.82 60.41L442.42 55.47L437.22 55.47ZM445.26 56.61L447.86 51.67L442.66 51.67ZM450.7 53.53L453.3 48.59L448.1 48.59ZM456.14 51.17L458.74 46.23L453.54 46.23ZM461.58 48.82L464.18 43.88L458.98 43.88ZM467.02 47.19L469.62 42.25L464.42 42.25ZM472.46 45.74L475.06 40.8L469.86 40.8ZM477.9 44.29L480.5 39.35L475.3 39.35Z" stroke="none" stroke-width="1" fill="#c4142f"/>
<line x1="445" y1="83" x2="454.3" y2="83" stroke="#c4142f" stroke-width="1.4"/>
<path d="M449.65 85.61L452.15 80.86L447.15 80.86Z" stroke="none" stroke-width="1" fill="#c4142f"/>
<text x="456.68" y="85.2" font-size="7.85" textLength="33.11" lengthAdjust="spacingAndGlyphs">Ristocetin</text>
<line x1="445" y1="94.7" x2="454.3" y2="94.7" stroke="#13507e" stroke-width="1.4"/>
<path d="M449.65 97.31L452.15 92.56L447.15 92.56Z" stroke="none" stroke-width="1" fill="#13507e"/>
<text x="457.27" y="96.85" font-size="7.85" textLength="15.71" lengthAdjust="spacingAndGlyphs">VWF</text>
<line x1="445" y1="106.4" x2="454.3" y2="106.4" stroke="#3db44b" stroke-width="1.4"/>
<path d="M449.65 109.01L452.15 104.26L447.15 104.26Z" stroke="none" stroke-width="1" fill="#3db44b"/>
<text x="457.27" y="108.5" font-size="7.85" textLength="55.92" lengthAdjust="spacingAndGlyphs">VWF &amp; ristocetin</text>
<text x="8.46" y="154.6" font-size="11.2" textLength="7.73" lengthAdjust="spacingAndGlyphs" font-weight="bold" fill="#000">C</text>
<line x1="48.6" y1="166" x2="48.6" y2="262.55" stroke="#141213" stroke-width="1.3"/>
<line x1="45.4" y1="261.9" x2="48.6" y2="261.9" stroke="#141213" stroke-width="1"/>
<text x="38.27" y="264.65" font-size="8.6" textLength="4.34" lengthAdjust="spacingAndGlyphs">0</text>
<line x1="45.4" y1="239.05" x2="48.6" y2="239.05" stroke="#141213" stroke-width="1"/>
<text x="38.29" y="241.8" font-size="8.6" textLength="4.34" lengthAdjust="spacingAndGlyphs">5</text>
<line x1="45.4" y1="216.2" x2="48.6" y2="216.2" stroke="#141213" stroke-width="1"/>
<text x="33.93" y="218.95" font-size="8.6" textLength="8.68" lengthAdjust="spacingAndGlyphs">10</text>
<line x1="45.4" y1="193.35" x2="48.6" y2="193.35" stroke="#141213" stroke-width="1"/>
<text x="33.95" y="196.1" font-size="8.6" textLength="8.68" lengthAdjust="spacingAndGlyphs">15</text>
<line x1="45.4" y1="170.5" x2="48.6" y2="170.5" stroke="#141213" stroke-width="1"/>
<text x="33.93" y="173.25" font-size="8.6" textLength="8.68" lengthAdjust="spacingAndGlyphs">20</text>
<line x1="69.5" y1="261.9" x2="69.5" y2="264.5" stroke="#141213" stroke-width="1"/>
<line x1="117.3" y1="261.9" x2="117.3" y2="264.5" stroke="#141213" stroke-width="1"/>
<line x1="164.3" y1="261.9" x2="164.3" y2="264.5" stroke="#141213" stroke-width="1"/>
<rect x="54.8" y="162.8" width="9.8" height="4.6" fill="#3db44b"/>
<text x="66.28" y="167.7" font-size="7.6" textLength="31.96" lengthAdjust="spacingAndGlyphs">Microlyse</text>
<rect x="116.8" y="162.8" width="9.4" height="4.6" fill="#c4142f"/>
<text x="128.28" y="167.7" font-size="7.6" textLength="48.46" lengthAdjust="spacingAndGlyphs">Neg-Microlyse</text>
<path d="M60.4 210.4V204.3M57.8 204.3H63" stroke="#231f20" stroke-width="0.8" fill="none"/>
<rect x="55.2" y="209.4" width="10.4" height="52.5" fill="#3db44b" stroke="#2aa63c" stroke-width="0.6"/>
<path d="M79.05 196V191.6M76.45 191.6H81.65" stroke="#231f20" stroke-width="0.8" fill="none"/>
<rect x="74" y="195" width="10.1" height="66.9" fill="#c4142f" stroke="#b30d27" stroke-width="0.6"/>
<path d="M108.05 213V207.4M105.45 207.4H110.65" stroke="#231f20" stroke-width="0.8" fill="none"/>
<rect x="102.9" y="212" width="10.3" height="49.9" fill="#3db44b" stroke="#2aa63c" stroke-width="0.6"/>
<path d="M126.5 200.2V196.1M123.9 196.1H129.1" stroke="#231f20" stroke-width="0.8" fill="none"/>
<rect x="121.4" y="199.2" width="10.2" height="62.7" fill="#c4142f" stroke="#b30d27" stroke-width="0.6"/>
<path d="M155.38 244.75V240.75M152.78 240.75H157.97" stroke="#231f20" stroke-width="0.8" fill="none"/>
<rect x="150" y="243.75" width="10.75" height="18.15" fill="#3db44b" stroke="#2aa63c" stroke-width="0.6"/>
<path d="M174 217.75V213.75M171.4 213.75H176.6" stroke="#231f20" stroke-width="0.8" fill="none"/>
<rect x="168.75" y="216.75" width="10.5" height="45.15" fill="#c4142f" stroke="#b30d27" stroke-width="0.6"/>
<path d="M60.5 187.5H79M60.5 185.9V189.1M79 185.9V189.1" stroke="#414042" stroke-width="0.75" fill="none"/>
<text x="60.31" y="183.8" font-size="7.6" textLength="18.71" lengthAdjust="spacingAndGlyphs">0.004</text>
<path d="M108.2 190.6H126.7M108.2 189V192.2M126.7 189V192.2" stroke="#414042" stroke-width="0.75" fill="none"/>
<text x="105.71" y="186.9" font-size="7.6" textLength="22.64" lengthAdjust="spacingAndGlyphs">0.0009</text>
<path d="M156.25 206.25H174.5M156.25 204.65V207.85M174.5 204.65V207.85" stroke="#414042" stroke-width="0.75" fill="none"/>
<text x="151.63" y="202.5" font-size="7.6" textLength="27.49" lengthAdjust="spacingAndGlyphs">&lt;0.0001</text>
<text x="51.83" y="274" font-size="8.3" textLength="35.8" lengthAdjust="spacingAndGlyphs">Ristocetin</text>
<text x="108.67" y="274" font-size="8.3" textLength="16.84" lengthAdjust="spacingAndGlyphs">VWF</text>
<text x="152.47" y="274.8" font-size="8.3" textLength="24.4" lengthAdjust="spacingAndGlyphs">VWF &amp;</text>
<text x="147.68" y="283.8" font-size="8.3" textLength="34.12" lengthAdjust="spacingAndGlyphs">ristocetin</text>
<text transform="translate(17 253.3) rotate(-90)" x="-0.64" y="0" font-size="8.6" textLength="80.04" lengthAdjust="spacingAndGlyphs">Plasminogen activation</text>
<text transform="translate(27.4 231) rotate(-90)" x="-0.53" y="0" font-size="8.6" textLength="39.06" lengthAdjust="spacingAndGlyphs">(T1/2:min)</text>
<text x="311.38" y="154.4" font-size="11.2" textLength="8.83" lengthAdjust="spacingAndGlyphs" font-weight="bold" fill="#000">D</text>
<line x1="342.4" y1="165.6" x2="342.4" y2="262.65" stroke="#141213" stroke-width="1.3"/>
<line x1="339.2" y1="262" x2="342.4" y2="262" stroke="#141213" stroke-width="1"/>
<text x="325.06" y="264.75" font-size="8.6" textLength="10.85" lengthAdjust="spacingAndGlyphs">0.0</text>
<line x1="339.2" y1="239" x2="342.4" y2="239" stroke="#141213" stroke-width="1"/>
<text x="325.13" y="241.75" font-size="8.6" textLength="10.85" lengthAdjust="spacingAndGlyphs">0.1</text>
<line x1="339.2" y1="216" x2="342.4" y2="216" stroke="#141213" stroke-width="1"/>
<text x="325.15" y="218.75" font-size="8.6" textLength="10.85" lengthAdjust="spacingAndGlyphs">0.2</text>
<line x1="339.2" y1="193" x2="342.4" y2="193" stroke="#141213" stroke-width="1"/>
<text x="325.1" y="195.75" font-size="8.6" textLength="10.85" lengthAdjust="spacingAndGlyphs">0.3</text>
<line x1="339.2" y1="170" x2="342.4" y2="170" stroke="#141213" stroke-width="1"/>
<text x="324.98" y="172.75" font-size="8.6" textLength="10.85" lengthAdjust="spacingAndGlyphs">0.4</text>
<line x1="363.4" y1="262" x2="363.4" y2="264.6" stroke="#141213" stroke-width="1"/>
<line x1="410.7" y1="262" x2="410.7" y2="264.6" stroke="#141213" stroke-width="1"/>
<line x1="458" y1="262" x2="458" y2="264.6" stroke="#141213" stroke-width="1"/>
<rect x="348.2" y="163.2" width="9.2" height="4.3" fill="#3db44b"/>
<text x="359.78" y="167.9" font-size="7.6" textLength="31.85" lengthAdjust="spacingAndGlyphs">Microlyse</text>
<rect x="410.2" y="163.2" width="9.3" height="4.3" fill="#c4142f"/>
<text x="421.77" y="167.9" font-size="7.6" textLength="48.77" lengthAdjust="spacingAndGlyphs">Neg-Microlyse</text>
<path d="M353.85 225.9V222.3M351.25 222.3H356.45" stroke="#231f20" stroke-width="0.8" fill="none"/>
<rect x="348.7" y="224.9" width="10.3" height="37.1" fill="#3db44b" stroke="#2aa63c" stroke-width="0.6"/>
<path d="M372.3 226.7V223.8M369.7 223.8H374.9" stroke="#231f20" stroke-width="0.8" fill="none"/>
<rect x="367" y="225.7" width="10.6" height="36.3" fill="#c4142f" stroke="#b30d27" stroke-width="0.6"/>
<path d="M401.45 221.1V217.5M398.85 217.5H404.05" stroke="#231f20" stroke-width="0.8" fill="none"/>
<rect x="396.3" y="220.1" width="10.3" height="41.9" fill="#3db44b" stroke="#2aa63c" stroke-width="0.6"/>
<path d="M420 224.7V222.2M417.4 222.2H422.6" stroke="#231f20" stroke-width="0.8" fill="none"/>
<rect x="415" y="223.7" width="10" height="38.3" fill="#c4142f" stroke="#b30d27" stroke-width="0.6"/>
<path d="M448.95 193.6V190.7M446.35 190.7H451.55" stroke="#231f20" stroke-width="0.8" fill="none"/>
<rect x="443.7" y="192.6" width="10.5" height="69.4" fill="#3db44b" stroke="#2aa63c" stroke-width="0.6"/>
<path d="M467.75 208.9V206.2M465.15 206.2H470.35" stroke="#231f20" stroke-width="0.8" fill="none"/>
<rect x="462.6" y="207.9" width="10.3" height="54.1" fill="#c4142f" stroke="#b30d27" stroke-width="0.6"/>
<path d="M354 217.5H372.5M354 215.9V219.1M372.5 215.9V219.1" stroke="#414042" stroke-width="0.75" fill="none"/>
<text x="359.26" y="215.8" font-size="7.6" textLength="6.98" lengthAdjust="spacingAndGlyphs">ns</text>
<path d="M401.1 212.7H420.2M401.1 211.1V214.3M420.2 211.1V214.3" stroke="#414042" stroke-width="0.75" fill="none"/>
<text x="398.91" y="209.3" font-size="7.6" textLength="22.87" lengthAdjust="spacingAndGlyphs">0.0177</text>
<path d="M449.4 185.9H468M449.4 184.3V187.5M468 184.3V187.5" stroke="#414042" stroke-width="0.75" fill="none"/>
<text x="445.03" y="183.1" font-size="7.6" textLength="27.03" lengthAdjust="spacingAndGlyphs">&lt;0.0001</text>
<text x="345.43" y="274.6" font-size="8.3" textLength="35.69" lengthAdjust="spacingAndGlyphs">Ristocetin</text>
<text x="401.77" y="274.6" font-size="8.3" textLength="17.14" lengthAdjust="spacingAndGlyphs">VWF</text>
<text x="445.97" y="275.2" font-size="8.3" textLength="24.66" lengthAdjust="spacingAndGlyphs">VWF &amp;</text>
<text x="441.65" y="284" font-size="8.3" textLength="33.09" lengthAdjust="spacingAndGlyphs">ristocetin</text>
<text transform="translate(319 259) rotate(-90)" x="-0.61" y="0" font-size="8.8" textLength="92.07" lengthAdjust="spacingAndGlyphs">Plasmin activity (ΔRFU/sec)</text>
<text x="8.5" y="305.6" font-size="11.2" textLength="7.01" lengthAdjust="spacingAndGlyphs" font-weight="bold" fill="#000">E</text>
<line x1="48.8" y1="312.2" x2="48.8" y2="405.55" stroke="#141213" stroke-width="1.3"/>
<line x1="45.6" y1="404.9" x2="48.8" y2="404.9" stroke="#141213" stroke-width="1"/>
<text x="38.27" y="407.65" font-size="8.6" textLength="4.34" lengthAdjust="spacingAndGlyphs">0</text>
<line x1="45.6" y1="388" x2="48.8" y2="388" stroke="#141213" stroke-width="1"/>
<text x="33.93" y="390.75" font-size="8.6" textLength="8.68" lengthAdjust="spacingAndGlyphs">20</text>
<line x1="45.6" y1="371.1" x2="48.8" y2="371.1" stroke="#141213" stroke-width="1"/>
<text x="33.93" y="373.85" font-size="8.6" textLength="8.68" lengthAdjust="spacingAndGlyphs">40</text>
<line x1="45.6" y1="354.2" x2="48.8" y2="354.2" stroke="#141213" stroke-width="1"/>
<text x="33.93" y="356.95" font-size="8.6" textLength="8.68" lengthAdjust="spacingAndGlyphs">60</text>
<line x1="45.6" y1="337.3" x2="48.8" y2="337.3" stroke="#141213" stroke-width="1"/>
<text x="33.93" y="340.05" font-size="8.6" textLength="8.68" lengthAdjust="spacingAndGlyphs">80</text>
<line x1="45.6" y1="320.4" x2="48.8" y2="320.4" stroke="#141213" stroke-width="1"/>
<text x="29.59" y="323.15" font-size="8.6" textLength="13.02" lengthAdjust="spacingAndGlyphs">100</text>
<line x1="48.15" y1="404.9" x2="190.5" y2="404.9" stroke="#141213" stroke-width="1.3"/>
<line x1="48.8" y1="404.9" x2="48.8" y2="407.5" stroke="#141213" stroke-width="1"/>
<text x="46.63" y="416.8" font-size="8.6" textLength="4.34" lengthAdjust="spacingAndGlyphs">0</text>
<line x1="76.75" y1="404.9" x2="76.75" y2="407.5" stroke="#141213" stroke-width="1"/>
<text x="74.59" y="416.8" font-size="8.6" textLength="4.34" lengthAdjust="spacingAndGlyphs">5</text>
<line x1="104.7" y1="404.9" x2="104.7" y2="407.5" stroke="#141213" stroke-width="1"/>
<text x="100.22" y="416.8" font-size="8.6" textLength="8.68" lengthAdjust="spacingAndGlyphs">10</text>
<line x1="132.65" y1="404.9" x2="132.65" y2="407.5" stroke="#141213" stroke-width="1"/>
<text x="128.18" y="416.8" font-size="8.6" textLength="8.68" lengthAdjust="spacingAndGlyphs">15</text>
<line x1="160.6" y1="404.9" x2="160.6" y2="407.5" stroke="#141213" stroke-width="1"/>
<text x="156.22" y="416.8" font-size="8.6" textLength="8.68" lengthAdjust="spacingAndGlyphs">20</text>
<line x1="188.55" y1="404.9" x2="188.55" y2="407.5" stroke="#141213" stroke-width="1"/>
<text x="184.18" y="416.8" font-size="8.6" textLength="8.68" lengthAdjust="spacingAndGlyphs">25</text>
<line x1="48.8" y1="404.9" x2="48.8" y2="407.1" stroke="#141213" stroke-width="0.9"/>
<line x1="54.39" y1="404.9" x2="54.39" y2="407.1" stroke="#141213" stroke-width="0.9"/>
<line x1="59.98" y1="404.9" x2="59.98" y2="407.1" stroke="#141213" stroke-width="0.9"/>
<line x1="65.57" y1="404.9" x2="65.57" y2="407.1" stroke="#141213" stroke-width="0.9"/>
<line x1="71.16" y1="404.9" x2="71.16" y2="407.1" stroke="#141213" stroke-width="0.9"/>
<line x1="76.75" y1="404.9" x2="76.75" y2="407.1" stroke="#141213" stroke-width="0.9"/>
<line x1="82.34" y1="404.9" x2="82.34" y2="407.1" stroke="#141213" stroke-width="0.9"/>
<line x1="87.93" y1="404.9" x2="87.93" y2="407.1" stroke="#141213" stroke-width="0.9"/>
<line x1="93.52" y1="404.9" x2="93.52" y2="407.1" stroke="#141213" stroke-width="0.9"/>
<line x1="99.11" y1="404.9" x2="99.11" y2="407.1" stroke="#141213" stroke-width="0.9"/>
<line x1="104.7" y1="404.9" x2="104.7" y2="407.1" stroke="#141213" stroke-width="0.9"/>
<line x1="110.29" y1="404.9" x2="110.29" y2="407.1" stroke="#141213" stroke-width="0.9"/>
<line x1="115.88" y1="404.9" x2="115.88" y2="407.1" stroke="#141213" stroke-width="0.9"/>
<line x1="121.47" y1="404.9" x2="121.47" y2="407.1" stroke="#141213" stroke-width="0.9"/>
<line x1="127.06" y1="404.9" x2="127.06" y2="407.1" stroke="#141213" stroke-width="0.9"/>
<line x1="132.65" y1="404.9" x2="132.65" y2="407.1" stroke="#141213" stroke-width="0.9"/>
<line x1="138.24" y1="404.9" x2="138.24" y2="407.1" stroke="#141213" stroke-width="0.9"/>
<line x1="143.83" y1="404.9" x2="143.83" y2="407.1" stroke="#141213" stroke-width="0.9"/>
<line x1="149.42" y1="404.9" x2="149.42" y2="407.1" stroke="#141213" stroke-width="0.9"/>
<line x1="155.01" y1="404.9" x2="155.01" y2="407.1" stroke="#141213" stroke-width="0.9"/>
<line x1="160.6" y1="404.9" x2="160.6" y2="407.1" stroke="#141213" stroke-width="0.9"/>
<line x1="166.19" y1="404.9" x2="166.19" y2="407.1" stroke="#141213" stroke-width="0.9"/>
<line x1="171.78" y1="404.9" x2="171.78" y2="407.1" stroke="#141213" stroke-width="0.9"/>
<line x1="177.37" y1="404.9" x2="177.37" y2="407.1" stroke="#141213" stroke-width="0.9"/>
<line x1="182.96" y1="404.9" x2="182.96" y2="407.1" stroke="#141213" stroke-width="0.9"/>
<line x1="188.55" y1="404.9" x2="188.55" y2="407.1" stroke="#141213" stroke-width="0.9"/>
<text x="98.13" y="430" font-size="10" textLength="36.34" lengthAdjust="spacingAndGlyphs">Time (min)</text>
<text transform="translate(26.4 402) rotate(-90)" x="-0.61" y="0" font-size="8.8" textLength="89.06" lengthAdjust="spacingAndGlyphs">Platelets in suspension (%)</text>
<line x1="82.3" y1="312.9" x2="82.3" y2="404.9" stroke="#141213" stroke-width="1.1" stroke-dasharray="4 2.35"/>
<path d="M48.8 320.89L49.08 320.3L49.36 321.06L49.64 319.78L49.92 320.62L50.2 320.69L50.48 321.89L50.76 322.08L51.04 324.85L51.32 326.07L51.59 328.65L51.87 333.58L52.15 336.97L52.43 339.8L52.71 343.62L52.99 347.93L53.27 352.26L53.55 355.36L53.83 357.91L54.11 359.72L54.39 360.8L54.67 363.96L54.95 365.34L55.23 366.54L55.51 358.9L55.79 364.95L56.07 360.5L56.35 371.7L56.63 367.35L56.91 372.41L57.18 376L57.46 373.85L57.74 369.99L58.02 380.41L58.3 378.46L58.58 382.31L58.86 382.56L59.14 381.89L59.42 383.17L59.7 384.35L59.98 383.24L60.26 385L60.54 384.88L60.82 384.68L61.1 385.22L61.38 384.53L61.66 377.62L61.94 376.64L62.22 382.06L62.5 386.13L62.77 379.72L63.05 377.32L63.33 386.9L63.61 382.8L63.89 383.68L64.17 385.41L64.45 384.95L64.73 378.26L65.01 379.79L65.29 385.47L65.57 388.03L65.85 388.09L66.13 385.98L66.41 384.2L66.69 387.46L66.97 387.18L67.25 384.93L67.53 384.72L67.81 383.53L68.09 388.07L68.36 387.04L68.64 387.47L68.92 386.78L69.2 380.07L69.48 385.79L69.76 382.54L70.04 380.36L70.32 388.73L70.6 378.7L70.88 382.84L71.16 383.23L71.44 386.09L71.72 388.6L72 388.02L72.28 389.07L72.56 383.47L72.84 384.76L73.12 380.43L73.4 380.01L73.68 389.11L73.95 388.64L74.23 388.78L74.51 386.29L74.79 387.52L75.07 388.77L75.35 387.61L75.63 382.49L75.91 381.78L76.19 387.85L76.47 385.28L76.75 389.54L77.03 381.86L77.31 389.07L77.59 389.74L77.87 386.69L78.15 388.22L78.43 379.56L78.71 389.27L78.99 380.72L79.27 383.65L79.54 385.67L79.82 379.41L80.1 387.69L80.38 386.87L80.66 389.61L80.94 380.16L81.22 386.48L81.5 389.09L81.78 383.99L82.06 389.32L82.34 387.59L82.62 388.98L82.9 388.86L83.18 389.75L83.46 389.6L83.74 382.8L84.02 388.55L84.3 389.56L84.58 383.06L84.86 387.06L85.13 385.18L85.41 386.44L85.69 385.57L85.97 389.59L86.25 385.81L86.53 381.14L86.81 389.8L87.09 387.23L87.37 385.06L87.65 380.31L87.93 383L88.21 383.97L88.49 389.79L88.77 384.99L89.05 389.16L89.33 389.63L89.61 388.77L89.89 389.82L90.17 388.06L90.45 388.53L90.72 389.67L91 388.17L91.28 388.54L91.56 389.53L91.84 386.18L92.12 384.51L92.4 380.18L92.68 382.86L92.96 385.28L93.24 389.8L93.52 385.72L93.8 387.91L94.08 389.84L94.36 389.81L94.64 388.65L94.92 389.67L95.2 387.09L95.48 389.51L95.76 389.68L96.04 388.68L96.31 389.85L96.59 389.81L96.87 381.49L97.15 384.44L97.43 388.59L97.71 389.8L97.99 389.85L98.27 389.86L98.55 386.99L98.83 383.41L99.11 389.83L99.39 379.35L99.67 388.04L99.95 385.93L100.23 386.47L100.51 386.59L100.79 388.06L101.07 387.86L101.35 388.42L101.63 388.95L101.91 389.84L102.18 384.57L102.46 380.25L102.74 380.94L103.02 388.56L103.3 380.19L103.58 389.27L103.86 384.25L104.14 384.3L104.42 389.25L104.7 383.93L104.98 381.58L105.26 388.08L105.54 382.1L105.82 383.06L106.1 389.89L106.38 389.73L106.66 388.06L106.94 389.88L107.22 389.04L107.5 389.2L107.77 389.44L108.05 385.45L108.33 389.8L108.61 382.58L108.89 389.9L109.17 388.06L109.45 386.51L109.73 389.71L110.01 388.57L110.29 388.2L110.57 387.51L110.85 380.29L111.13 387.19L111.41 380.77L111.69 387.59L111.97 389.68L112.25 382.65L112.53 379.98L112.81 389.82L113.08 389.58L113.36 384.32L113.64 389.91L113.92 389.43L114.2 389.91L114.48 380.93L114.76 385.91L115.04 389.74L115.32 389.91L115.6 389.87L115.88 389.84L116.16 380.71L116.44 378.6L116.72 379.82L117 389.93L117.28 386.98L117.56 387.39L117.84 380.28L118.12 382.42L118.4 389.92L118.67 384.4L118.95 385.33L119.23 387.33L119.51 389.18L119.79 388.96L120.07 381.95L120.35 389.45L120.63 389.08L120.91 388.24L121.19 378.9L121.47 389.92L121.75 389.93L122.03 388.92L122.31 388.43L122.59 389.31L122.87 385.87L123.15 389.65L123.43 389.92L123.71 387.37L123.99 382.69L124.27 385.39L124.54 388.04L124.82 382.8L125.1 383.68L125.38 388.78L125.66 385.75L125.94 385.26L126.22 378.78L126.5 388.52L126.78 388.55L127.06 388.76L127.34 380.26L127.62 389.62L127.9 389.41L128.18 389.72L128.46 387.47L128.74 380.88L129.02 389.96L129.3 381.78L129.58 389.9L129.85 389.77L130.13 382.22L130.41 388.79L130.69 385.23L130.97 388.37L131.25 389.69L131.53 384.24L131.81 386.25L132.09 382.05L132.37 381.16L132.65 378.95L132.93 389.8L133.21 386.86L133.49 388.05L133.77 387.9L134.05 389.95L134.33 381.32L134.61 382.57L134.89 384.54L135.17 389.59L135.44 389.94L135.72 389.83L136 386.96L136.28 389.76L136.56 387.43L136.84 388.76L137.12 380.13L137.4 388.46L137.68 387.03L137.96 378.99L138.24 389.96L138.52 388.27L138.8 389.86L139.08 388.94L139.36 385.37L139.64 387.36L139.92 389.85L140.2 387.8L140.48 388.95L140.76 380.65L141.03 384.49L141.31 387.37L141.59 389.92L141.87 390.02L142.15 388.29L142.43 381.67L142.71 390.02L142.99 389.98L143.27 388.39L143.55 388.33L143.83 388.64L144.11 387.37L144.39 390.03L144.67 389.56L144.95 384.57L145.23 390.02L145.51 380.53L145.79 389.96L146.07 378.65L146.35 389.64L146.62 390.04L146.9 390.03L147.18 389.4L147.46 390.01L147.74 389.83L148.02 383.97L148.3 385.62L148.58 385.58L148.86 387.2L149.14 390.05L149.42 388.16L149.7 384.45L149.98 389.21L150.26 386.55L150.54 389.87L150.82 387.16L151.1 384.64L151.38 389.55L151.66 386.63L151.94 384.04L152.21 388.53L152.49 384.96L152.77 383.38L153.05 383.84L153.33 380.05L153.61 388.52L153.89 388.63L154.17 383.9L154.45 379.31L154.73 389.68L155.01 381.18L155.29 387.44L155.57 389.45L155.85 382.99L156.13 389.94L156.41 387.26L156.69 381.11L156.97 389.84L157.25 390.03L157.53 385.96L157.81 387.05L158.08 389.92L158.36 387.45L158.64 388.06L158.92 388.1L159.2 388.13L159.48 389L159.76 388.14L160.04 384.98L160.32 382.01L160.6 390.07L160.88 381.77L161.16 390.04L161.44 383.5L161.72 387.4L162 390.07L162.28 390.1L162.56 387.83L162.84 384.49L163.12 390.1L163.39 389.81L163.67 388.47L163.95 384.77L164.23 389.75L164.51 388.92L164.79 389.27L165.07 390.09L165.35 388.81L165.63 390.06L165.91 380.1L166.19 386.74L166.47 388.04L166.75 389.49L167.03 388.5L167.31 390.03L167.59 389.88L167.87 389.54L168.15 390.12L168.43 383.64L168.71 386.97L168.99 389.25L169.26 387.56L169.54 389.99L169.82 389.76L170.1 384.38L170.38 389.56L170.66 387.05L170.94 390.12L171.22 385.31L171.5 389.47L171.78 390.09L172.06 384.24L172.34 389.66L172.62 381.76L172.9 389.18L173.18 389.09L173.46 376.95L173.74 387.18L174.02 386.97L174.3 382.9L174.57 388.94L174.85 384.29L175.13 389.5L175.41 387.3L175.69 389.58L175.97 389.62L176.25 386.05L176.53 389.08L176.81 384.4L177.09 380.18L177.37 390.15L177.65 389.47L177.93 389.72L178.21 384.35L178.49 382.26L178.77 378.64L179.05 388.72L179.33 383.19L179.61 390.14L179.89 384.05L180.17 386.95L180.44 387.09L180.72 378.98L181 389.85L181.28 384.16L181.56 381.35L181.84 388.79L182.12 387.32L182.4 388.54L182.68 388.01L182.96 389.65L183.24 386.53L183.52 390.01L183.8 383.85L184.08 387.4L184.36 388.71L184.64 388.4L184.92 384.64L185.2 379.89L185.48 381.57L185.75 390.12L186.03 390.15L186.31 389.83L186.59 388.32L186.87 390.13L187.15 380.33L187.43 390.19L187.71 386.41L187.99 389.05L188.27 389.94L188.55 387.52" stroke="#111" stroke-width="0.6" fill="none"/>
<path d="M48.8 320.47L48.94 320.51L49.08 320.56L49.22 320.62L49.36 320.68L49.5 320.75L49.64 320.82L49.78 320.93L49.92 321.12L50.06 321.5L50.2 322.2L50.34 323.36L50.48 325.13L50.62 327.55L50.76 330.57L50.9 334.05L51.04 337.81L51.18 341.68L51.32 345.49L51.46 349.14L51.59 352.53L51.73 355.63L51.87 358.44L52.01 360.98L52.15 362.59L52.29 367.54L52.43 370.05L52.57 366.4L52.71 371.55L52.85 372.52L52.99 368.84L53.13 370.24L53.27 374.39L53.41 371.08L53.55 374.25L53.69 374.1L53.83 377.56L53.97 373.86L54.11 375.99L54.25 374.97L54.39 375.98L54.53 380.01L54.67 380.09L54.81 381.62L54.95 382.05L55.09 382.79L55.23 381.62L55.37 380.06L55.51 383.81L55.65 380.03L55.79 382.25L55.93 382.62L56.07 379.82L56.21 382.02L56.35 383.21L56.49 382.44L56.63 381.32L56.77 385.36L56.91 380.13L57.05 385.96L57.18 381.85L57.32 381.46L57.46 386.51L57.6 382.1L57.74 384.71L57.88 383.56L58.02 387.03L58.16 386.9L58.3 386.2L58.44 381.71L58.58 386.28L58.72 383.06L58.86 382.12L59 382.14L59.14 385.76L59.28 385.79L59.42 384.87L59.56 383.48L59.7 387.52L59.84 383.82L59.98 383.62L60.12 383.34L60.26 388.29L60.4 383.01L60.54 388.15L60.68 386.76L60.82 385.25L60.96 383.53L61.1 387.03L61.24 383.67L61.38 386L61.52 387.46L61.66 387.53L61.8 388.44L61.94 389.12L62.08 388.79L62.22 385.68L62.36 383.94L62.5 388.96L62.64 389.7L62.77 384.2L62.91 386.93L63.05 387.72L63.19 388.74L63.33 386.65L63.47 385.29L63.61 387.49L63.75 387.71L63.89 389.88L64.03 384.81L64.17 390.05L64.31 387.33L64.45 385.31L64.59 389.5L64.73 385.96L64.87 384.68L65.01 386.59L65.15 385.67L65.29 389.71L65.43 387.78L65.57 389.48L65.71 385.38L65.85 388.65L65.99 387.72L66.13 384.51L66.27 385.39L66.41 384.67L66.55 387.77L66.69 387.58L66.83 386.17L66.97 387.66L67.11 388.78L67.25 388.13L67.39 389.66L67.53 388.31L67.67 384.71L67.81 384.89L67.95 386.87L68.09 387.64L68.23 388.6L68.36 390.09L68.5 389.02L68.64 386.02L68.78 385.53L68.92 388.53L69.06 386.03L69.2 386.11L69.34 386.6L69.48 386.79L69.62 386.24L69.76 388.6L69.9 386.59L70.04 389.11L70.18 387.91L70.32 386.24L70.46 386.72L70.6 389.08L70.74 385.24L70.88 387L71.02 387.43L71.16 390.8L71.3 387.65L71.44 389.42L71.58 386.94L71.72 388.19L71.86 386.11L72 387.12L72.14 386.24L72.28 388.92L72.42 387.18L72.56 386.64L72.7 386.11L72.84 388.95L72.98 386.05L73.12 385.9L73.26 386.99L73.4 385.3L73.54 385.43L73.68 388.04L73.82 387.98L73.95 390.14L74.09 386.19L74.23 385.61L74.37 388.34L74.51 387.09L74.65 386.93L74.79 386.88L74.93 390.2L75.07 386.61L75.21 387.8L75.35 387.32L75.49 388.78L75.63 387.59L75.77 386.71L75.91 387.54L76.05 387.06L76.19 391.17L76.33 390.39L76.47 388.74L76.61 387.52L76.75 390.07L76.89 387.32L77.03 387.65L77.17 391.13L77.31 388.59L77.45 390.04L77.59 391.06L77.73 390.59L77.87 389.5L78.01 390.31L78.15 390.24L78.29 391.17L78.43 388.63L78.57 389.13L78.71 387.76L78.85 387.89L78.99 389.97L79.13 386.04L79.27 391.38L79.41 388.98L79.54 389.73L79.68 388.95L79.82 390.7L79.96 386.46L80.1 389.17L80.24 391.17L80.38 387.75L80.52 390.82L80.66 388.16L80.8 389.37L80.94 387.94L81.08 385.71L81.22 386.54L81.36 388.9L81.5 386.57L81.64 387.58L81.78 389.19L81.92 390.54L82.06 387.86L82.2 388.04L82.34 385.72L82.48 385.65L82.62 387.78L82.76 389.3L82.9 386.1L83.04 391.37L83.18 390.74L83.32 388.03L83.46 387.74L83.6 390.55L83.74 387.66L83.88 386.11L84.02 389.16L84.16 388.83L84.3 390.04L84.44 389.66L84.58 385.63L84.72 389.13L84.86 385.69L85 385.98L85.13 387.86L85.27 389.84L85.41 385.58L85.55 388.44L85.69 388.92L85.83 389.49L85.97 385.56L86.11 388.47L86.25 389.69L86.39 388.56L86.53 390.66L86.67 387.7L86.81 388.76L86.95 389.65L87.09 386.76L87.23 386.49L87.37 391.3L87.51 388.23L87.65 389.76L87.79 385.85L87.93 386.76L88.07 389.93L88.21 389.8L88.35 390.46L88.49 385.53L88.63 389.65L88.77 387.78L88.91 388.57L89.05 387.57L89.19 387.81L89.33 386.98L89.47 390.68L89.61 386.88L89.75 389.6L89.89 388.22L90.03 389.39L90.17 389.62L90.31 388.25L90.45 388.63L90.59 389.24L90.72 386.97L90.86 387.89L91 391.16L91.14 389.89L91.28 388.69L91.42 385.96L91.56 386.13L91.7 388.15L91.84 391.29L91.98 386.78L92.12 388.85L92.26 387.98L92.4 387.19L92.54 387.64L92.68 388.53L92.82 385.99L92.96 389.1L93.1 389.06L93.24 386.34L93.38 390.22L93.52 389.63L93.66 386.47L93.8 390.99L93.94 386.43L94.08 387.27L94.22 388.82L94.36 389.69L94.5 386.76L94.64 385.99L94.78 390.54L94.92 388.55L95.06 388.13L95.2 388.44L95.34 389.42L95.48 390.47L95.62 387.91L95.76 386.58L95.9 390.98L96.04 390.02L96.18 386.53L96.31 386.7L96.45 387.45L96.59 391.23L96.73 387.11L96.87 385.59L97.01 385.47L97.15 387.23L97.29 391.09L97.43 386.4L97.57 390.08L97.71 387.56L97.85 385.75L97.99 387.17L98.13 390.58L98.27 389.65L98.41 385.95L98.55 390.49L98.69 387.77L98.83 388.93L98.97 390.43L99.11 387.7L99.25 391.12L99.39 390.74L99.53 389.14L99.67 390.95L99.81 391.04L99.95 387.98L100.09 386.99L100.23 386.18L100.37 390.59L100.51 388.83L100.65 389.52L100.79 387.83L100.93 388.48L101.07 385.83L101.21 389.17L101.35 391.05L101.49 387.26L101.63 390.49L101.77 387.65L101.91 388.39L102.04 385.99L102.18 388.1L102.32 387.71L102.46 389.82L102.6 388.12L102.74 389.88L102.88 386.94L103.02 388.32L103.16 390.59L103.3 389.99L103.44 389.18L103.58 387.02L103.72 390.32L103.86 387.16L104 387.51L104.14 390.88L104.28 387.43L104.42 390.84L104.56 390.64L104.7 387.87L104.84 389.97L104.98 386.19L105.12 388.54L105.26 389.47L105.4 386.67L105.54 391.21L105.68 387.09L105.82 391.06L105.96 390.49L106.1 385.75L106.24 387.35L106.38 390.06L106.52 390.69L106.66 385.63L106.8 387.45L106.94 386.53L107.08 390.55L107.22 387.68L107.36 389.28L107.5 389.99L107.63 389.41L107.77 387.75L107.91 389.32L108.05 389.1L108.19 390.57L108.33 386.46L108.47 387.55L108.61 386.62L108.75 388.82L108.89 386.34L109.03 388.32L109.17 387.87L109.31 387.99L109.45 387L109.59 389.04L109.73 390.8L109.87 391.17L110.01 390.16L110.15 391.1L110.29 386.03L110.43 388.39L110.57 386.67L110.71 391.09L110.85 388.22L110.99 385.65L111.13 387.16L111.27 388.2L111.41 387.88L111.55 389.96L111.69 389.54L111.83 389.42L111.97 388.05L112.11 387.89L112.25 384.88L112.39 389.09L112.53 388.39L112.67 388.16L112.81 388.75L112.95 387.91L113.08 388.12L113.22 386.54L113.36 389.07L113.5 383.64L113.64 386.76L113.78 383.2L113.92 384.48L114.06 384.35L114.2 385.33L114.34 382.3L114.48 386.98L114.62 383.5L114.76 385.51L114.9 383.02L115.04 382.48L115.18 385.6L115.32 385.16L115.46 385.98L115.6 384.54L115.74 385.22L115.88 383.09L116.02 379.48L116.16 382.86L116.3 382.95L116.44 381.81L116.58 382.69L116.72 379.82L116.86 379.71L117 382.8L117.14 382.17L117.28 379.45L117.42 377.71L117.56 379.3L117.7 380.43L117.84 377.07L117.98 382.66L118.12 382.19L118.26 377.8L118.4 379.84L118.54 381.86L118.67 378.74L118.81 375.98L118.95 378.62L119.09 379.48L119.23 380.85L119.37 380.85L119.51 375.81L119.65 378.08L119.79 375.3L119.93 380.38L120.07 379.11L120.21 380.11L120.35 377.92L120.49 379.77L120.63 378.47L120.77 377.43L120.91 377.89L121.05 379.25L121.19 379.18L121.33 373.51L121.47 377.33L121.61 375.95L121.75 376.18L121.89 375.53L122.03 377.02L122.17 376L122.31 376.59L122.45 374.8L122.59 373.22L122.73 374.25L122.87 373.11L123.01 375.33L123.15 375.89L123.29 373.77L123.43 373.79L123.57 373.31L123.71 373.86L123.85 372.76L123.99 372.21L124.13 371.34L124.27 373.42L124.4 372.72L124.54 371.15L124.68 373.21L124.82 373.44L124.96 372.54L125.1 373.2L125.24 370.48L125.38 370.13L125.52 371.84L125.66 372.35L125.8 372.35L125.94 371.58L126.08 372L126.22 370.55L126.36 369.82L126.5 370.88L126.64 371.39L126.78 368.84L126.92 371.09L127.06 370.35L127.2 369.85L127.34 369.34L127.48 370.18L127.62 368.8L127.76 369.01L127.9 367.2L128.04 367.74L128.18 366.29L128.32 367.01L128.46 366.43L128.6 366.94L128.74 367.24L128.88 365.67L129.02 366.08L129.16 364.78L129.3 365.44L129.44 365.36L129.58 366.79L129.72 364.58L129.85 365.99L129.99 366.74L130.13 366.8L130.27 366.23L130.41 365.7L130.55 363.98L130.69 365.24L130.83 365.89L130.97 363.1L131.11 363.68L131.25 365.47L131.39 365.2L131.53 363.5L131.67 363.22L131.81 362.82L131.95 362.6L132.09 362.56L132.23 362.53L132.37 362.27L132.51 362.11L132.65 361.94L132.79 361.89L132.93 361.46L133.07 361.17L133.21 361.02L133.35 361.09L133.49 360.71L133.63 360.66L133.77 360.24L133.91 360.15L134.05 359.74L134.19 359.6L134.33 359.68L134.47 359.4L134.61 358.95L134.75 358.94L134.89 358.75L135.03 358.54L135.17 358.21L135.31 357.93L135.44 357.9L135.58 357.52L135.72 357.48L135.86 357.48L136 356.98L136.14 356.95L136.28 356.9L136.42 356.31L136.56 356.51L136.7 356.08L136.84 355.92L136.98 355.55L137.12 355.56L137.26 355.43L137.4 355.2L137.54 355.03L137.68 354.68L137.82 354.57L137.96 354.2L138.1 354.21L138.24 353.97L138.38 353.81L138.52 353.31L138.66 353.17L138.8 352.98L138.94 352.89L139.08 352.8L139.22 352.74L139.36 352.27L139.5 352.24L139.64 352.26L139.78 352.03L139.92 351.89L140.06 351.45L140.2 351.2L140.34 351.32L140.48 350.9L140.62 350.92L140.76 350.6L140.9 350.35L141.03 350.28L141.17 350.03L141.31 350.04L141.45 350.02L141.59 349.63L141.73 349.43L141.87 349.42L142.01 349.16L142.15 349.02L142.29 348.97L142.43 348.68L142.57 348.47L142.71 348.26L142.85 347.99L142.99 347.95L143.13 347.53L143.27 347.42L143.41 347.21L143.55 347.13L143.69 346.97L143.83 346.85L143.97 346.57L144.11 346.6L144.25 346.34L144.39 346.16L144.53 346.09L144.67 346.07L144.81 346.04L144.95 345.93L145.09 345.71L145.23 345.5L145.37 345.32L145.51 345.24L145.65 345.3L145.79 344.93L145.93 345.11L146.07 344.81L146.21 344.98L146.35 344.59L146.49 344.52L146.62 344.29L146.76 344.21L146.9 344.19L147.04 344.02L147.18 343.96L147.32 343.91L147.46 343.97L147.6 343.74L147.74 343.47L147.88 343.64L148.02 343.23L148.16 343.3L148.3 343.26L148.44 343.32L148.58 343.05L148.72 343.03L148.86 342.73L149 342.52L149.14 342.41L149.28 342.43L149.42 342.42L149.56 342.43L149.7 342.08L149.84 342.03L149.98 341.86L150.12 341.9L150.26 341.57L150.4 341.75L150.54 341.61L150.68 341.52L150.82 341.27L150.96 341.05L151.1 341.26L151.24 340.96L151.38 340.8L151.52 340.93L151.66 340.9L151.8 340.58L151.94 340.37L152.08 340.25L152.21 340.21L152.35 340.24L152.49 340.14L152.63 339.99L152.77 339.73L152.91 339.88L153.05 339.79L153.19 339.55L153.33 339.3L153.47 339.53L153.61 339.49L153.75 339.36L153.89 339.06L154.03 338.95L154.17 339.02L154.31 338.92L154.45 338.65L154.59 338.52L154.73 338.4L154.87 338.28L155.01 338.47L155.15 338.19L155.29 337.94L155.43 337.78L155.57 337.95L155.71 337.63L155.85 337.63L155.99 337.43L156.13 337.65L156.27 337.4L156.41 337.29L156.55 337.4L156.69 337.52L156.83 337.45L156.97 337.44L157.11 337.43L157.25 337.38L157.39 337.15L157.53 337.34L157.67 337.03L157.81 337.01L157.94 336.95L158.08 336.93L158.22 336.94L158.36 336.82L158.5 336.77L158.64 336.88L158.78 336.71L158.92 337.05L159.06 337.02L159.2 337L159.34 336.91L159.48 336.81L159.62 336.75L159.76 336.62L159.9 336.57L160.04 336.82L160.18 336.65L160.32 336.56L160.46 336.6L160.6 336.68L160.74 336.45L160.88 336.52L161.02 336.36L161.16 336.41L161.3 336.18L161.44 336.16L161.58 336.5L161.72 336.19L161.86 336.18L162 336.35L162.14 336.4L162.28 336.23L162.42 336.27L162.56 336.09L162.7 336L162.84 336.21L162.98 336.24L163.12 336.13L163.26 336.03L163.39 335.98L163.53 336.05L163.67 336.16L163.81 336.12L163.95 335.89L164.09 336.01L164.23 336.2L164.37 336.03L164.51 336.09L164.65 335.89L164.79 336.13L164.93 336.03L165.07 336.08L165.21 335.91L165.35 335.68L165.49 335.85L165.63 335.9L165.77 335.65L165.91 335.99L166.05 335.87L166.19 335.66L166.33 335.98L166.47 335.65L166.61 335.8L166.75 335.93L166.89 335.82L167.03 335.71L167.17 335.73L167.31 335.66L167.45 335.84L167.59 335.75L167.73 335.42L167.87 335.63L168.01 335.6L168.15 335.75L168.29 335.65L168.43 335.35L168.57 335.45L168.71 335.51L168.85 335.68L168.99 335.53L169.12 335.35L169.26 335.48L169.4 335.39L169.54 335.25L169.68 335.34L169.82 335.33L169.96 335.58L170.1 335.57L170.24 335.25L170.38 335.39L170.52 335.19L170.66 335.21L170.8 335.17L170.94 335.4L171.08 335.13L171.22 335.23L171.36 335.17L171.5 335.49L171.64 335.22L171.78 335.37L171.92 335.13L172.06 335.12L172.2 335.45L172.34 335.36L172.48 335.42L172.62 335.33L172.76 335.41L172.9 335.25L173.04 335.48L173.18 335.45L173.32 335.33L173.46 335.49L173.6 335.36L173.74 335.14L173.88 335.14L174.02 335.43L174.16 335.5L174.3 335.16L174.44 335.1L174.57 335.25L174.71 335.45L174.85 335.4L174.99 335.11L175.13 335.1L175.27 335.48L175.41 335.42L175.55 335.31L175.69 335.38L175.83 335.17L175.97 335.33L176.11 335.16L176.25 335.42L176.39 335.26L176.53 335.07L176.67 335.18L176.81 335.44L176.95 335.43L177.09 335.2L177.23 335.31L177.37 335.31L177.51 335.26L177.65 335.22L177.79 335.05L177.93 335.36L178.07 335.22L178.21 335.35L178.35 335.22L178.49 335.14L178.63 335.39L178.77 335.25L178.91 335.15L179.05 335.44L179.19 335.12L179.33 335.26L179.47 335.23L179.61 335.18L179.75 335.1L179.89 335.41L180.03 335.22L180.17 335.41L180.3 335.26L180.44 335.28L180.58 335.41L180.72 335.3L180.86 335.23L181 335.14L181.14 335.03L181.28 335.26L181.42 335.19L181.56 335.11L181.7 335.01L181.84 335.01L181.98 334.99L182.12 335.28L182.26 335.33L182.4 335.01L182.54 335.36L182.68 335.21L182.82 335.08L182.96 335.17L183.1 335.22L183.24 335L183.38 335.26L183.52 335.15L183.66 335.03L183.8 335.32L183.94 335.23L184.08 335.17L184.22 335.13L184.36 335.28L184.5 335.18L184.64 335.34L184.78 335.33L184.92 335.22L185.06 335.3L185.2 334.95L185.34 335.25L185.48 335.24L185.62 335.02L185.75 335.04L185.89 335.24L186.03 335L186.17 335.08L186.31 335.18L186.45 335.08L186.59 335.24L186.73 335.23L186.87 334.97L187.01 335.15L187.15 334.95L187.29 335.26L187.43 335.27L187.57 335.31L187.71 335.01L187.85 335.09L187.99 335.32L188.13 335.3L188.27 334.97L188.41 335.11L188.55 334.95" stroke="#a5a6aa" stroke-width="0.9" fill="none"/>
<path d="M48.8 320.45L48.94 320.48L49.08 320.52L49.22 320.56L49.36 320.61L49.5 320.66L49.64 320.72L49.78 320.77L49.92 320.82L50.06 320.88L50.2 320.93L50.34 321L50.48 321.1L50.62 321.29L50.76 321.61L50.9 322.14L51.04 322.92L51.18 323.99L51.32 325.32L51.46 326.86L51.59 328.56L51.73 330.34L51.87 332.2L52.01 334.1L52.15 336.04L52.29 338.02L52.43 340.02L52.57 342.03L52.71 344.04L52.85 346.05L52.99 348.04L53.13 349.99L53.27 351.89L53.41 353.69L53.55 355.38L53.69 356.91L53.83 355.59L53.97 362.63L54.11 361.35L54.25 361.44L54.39 365.56L54.53 363.44L54.67 360.69L54.81 366.96L54.95 364.13L55.09 368.1L55.23 365.43L55.37 363.77L55.51 369.28L55.65 371.32L55.79 371.51L55.93 369.13L56.07 373.84L56.21 374.51L56.35 372.84L56.49 371.13L56.63 375.92L56.77 377.19L56.91 376.43L57.05 381.07L57.18 378.23L57.32 381.64L57.46 378.99L57.6 376.92L57.74 383.74L57.88 380.59L58.02 380.62L58.16 384.26L58.3 383.81L58.44 379.03L58.58 379.36L58.72 385.9L58.86 382.02L59 380.5L59.14 385.75L59.28 383.23L59.42 387.38L59.56 385.19L59.7 383.09L59.84 383.78L59.98 382.57L60.12 387.54L60.26 385.78L60.4 382.21L60.54 384.29L60.68 385.32L60.82 385.76L60.96 381.71L61.1 384.73L61.24 388.76L61.38 383.31L61.52 386.75L61.66 386.09L61.8 387.75L61.94 386.21L62.08 387.14L62.22 388.91L62.36 385.17L62.5 389L62.64 384.25L62.77 389.73L62.91 384.46L63.05 384.35L63.19 386.63L63.33 385.19L63.47 388.52L63.61 385.09L63.75 387.35L63.89 388.77L64.03 383.6L64.17 387.63L64.31 387.86L64.45 384.43L64.59 387.94L64.73 385.86L64.87 389.42L65.01 384.68L65.15 388.86L65.29 390.37L65.43 383.83L65.57 389.56L65.71 384.1L65.85 383.85L65.99 386.58L66.13 390.83L66.27 390.51L66.41 389.5L66.55 388.25L66.69 386.7L66.83 384.21L66.97 388.59L67.11 390.14L67.25 387.18L67.39 390.23L67.53 390.62L67.67 387.32L67.81 386.36L67.95 390.86L68.09 388.15L68.23 386.39L68.36 386L68.5 388.74L68.64 385.19L68.78 390.32L68.92 386.47L69.06 386.1L69.2 385.36L69.34 388.13L69.48 390.97L69.62 391.36L69.76 387.99L69.9 390.54L70.04 387.33L70.18 391.24L70.32 386.33L70.46 390.32L70.6 391.84L70.74 390.71L70.88 388.75L71.02 388.05L71.16 389.3L71.3 390.86L71.44 388.7L71.58 385.43L71.72 388.38L71.86 385.53L72 392.04L72.14 385.23L72.28 386L72.42 388.48L72.56 388.66L72.7 388.59L72.84 385.98L72.98 392L73.12 387.94L73.26 388.68L73.4 390.43L73.54 387.45L73.68 387.51L73.82 391.93L73.95 387.72L74.09 389.5L74.23 389.27L74.37 388.26L74.51 392.42L74.65 388.54L74.79 390.19L74.93 386.62L75.07 391.23L75.21 387.05L75.35 387.73L75.49 388.48L75.63 386.72L75.77 392.69L75.91 388.73L76.05 388.63L76.19 388.18L76.33 390.12L76.47 392.53L76.61 391.7L76.75 388.74L76.89 391.78L77.03 392.62L77.17 390.58L77.31 389.77L77.45 389.33L77.59 392.96L77.73 387.65L77.87 390.8L78.01 387.63L78.15 393.14L78.29 386.44L78.43 389.04L78.57 386.32L78.71 386.26L78.85 387.36L78.99 392.54L79.13 390.83L79.27 391.68L79.41 387.8L79.54 391.98L79.68 391.79L79.82 392.58L79.96 392.51L80.1 386.7L80.24 386.42L80.38 390.68L80.52 388.03L80.66 389.94L80.8 389.52L80.94 390.57L81.08 388.65L81.22 391.44L81.36 391.27L81.5 389.37L81.64 391.61L81.78 389.86L81.92 386.24L82.06 392.75L82.2 392.14L82.34 387.16L82.48 392.39L82.62 390.98L82.76 386.68L82.9 388.39L83.04 391.09L83.18 392.2L83.32 390.63L83.46 390.42L83.6 386.83L83.74 385.55L83.88 386.86L84.02 386L84.16 385.76L84.3 386.11L84.44 385.76L84.58 385.39L84.72 391.55L84.86 389.93L85 390.39L85.13 387.82L85.27 388.57L85.41 389.53L85.55 385.96L85.69 388.94L85.83 390.14L85.97 389.48L86.11 387.95L86.25 386.67L86.39 386.74L86.53 387.41L86.67 388.97L86.81 387.2L86.95 387.51L87.09 388.37L87.23 385.48L87.37 387.76L87.51 383.81L87.65 383.94L87.79 387.4L87.93 383.95L88.07 385.17L88.21 384.38L88.35 383.33L88.49 382.3L88.63 381.45L88.77 381.97L88.91 384.38L89.05 382.46L89.19 383.27L89.33 384.63L89.47 381.69L89.61 381.86L89.75 379.61L89.89 382.13L90.03 379.3L90.17 380.68L90.31 382.55L90.45 379.18L90.59 381.13L90.72 379.63L90.86 381.73L91 381.8L91.14 376.95L91.28 381.17L91.42 380.39L91.56 380.08L91.7 380.19L91.84 376.26L91.98 375.16L92.12 376.68L92.26 377.73L92.4 375L92.54 376.7L92.68 378.35L92.82 375.3L92.96 376.74L93.1 376.96L93.24 376.47L93.38 375.9L93.52 376.7L93.66 374.28L93.8 372.75L93.94 374.02L94.08 376.63L94.22 372.98L94.36 376.11L94.5 373.55L94.64 371.35L94.78 372.07L94.92 370.67L95.06 371.21L95.2 372.96L95.34 373.12L95.48 371.94L95.62 371.01L95.76 372.14L95.9 371.61L96.04 370.1L96.18 371.09L96.31 370.08L96.45 370.02L96.59 368.62L96.73 371.14L96.87 370.43L97.01 368.4L97.15 368.51L97.29 370.02L97.43 369.69L97.57 369.23L97.71 367.99L97.85 366.68L97.99 368.54L98.13 368.36L98.27 366.66L98.41 367.24L98.55 365.73L98.69 365.04L98.83 365.01L98.97 365.45L99.11 365.9L99.25 367L99.39 364.5L99.53 365.52L99.67 365.1L99.81 364.36L99.95 363.13L100.09 364.15L100.23 362.82L100.37 362.46L100.51 364.91L100.65 363.87L100.79 362.02L100.93 362.16L101.07 361.32L101.21 363.48L101.35 362.21L101.49 360.76L101.63 361.73L101.77 361.11L101.91 359.96L102.04 362.17L102.18 362.3L102.32 359.65L102.46 360.25L102.6 361.18L102.74 359.02L102.88 360.46L103.02 360.7L103.16 359.96L103.3 360.52L103.44 359.17L103.58 357.8L103.72 358.56L103.86 356.77L104 359.35L104.14 358.72L104.28 358.57L104.42 357.03L104.56 357.94L104.7 356.63L104.84 356.54L104.98 356.25L105.12 355.75L105.26 355.58L105.4 355.21L105.54 355.76L105.68 355.3L105.82 354.48L105.96 354.82L106.1 354.7L106.24 354.27L106.38 354.35L106.52 353.44L106.66 353.42L106.8 353.74L106.94 352.63L107.08 352.85L107.22 352.9L107.36 352.32L107.5 351.78L107.63 352.2L107.77 352.35L107.91 351.99L108.05 351.95L108.19 351.31L108.33 351.36L108.47 350.65L108.61 351.13L108.75 351.16L108.89 350.54L109.03 350.72L109.17 350.36L109.31 350.28L109.45 350.16L109.59 349.53L109.73 349.06L109.87 349.47L110.01 349.03L110.15 349.18L110.29 348.69L110.43 348.65L110.57 348.66L110.71 348.25L110.85 348.26L110.99 348.15L111.13 348L111.27 347.55L111.41 347.43L111.55 347.38L111.69 347.15L111.83 346.93L111.97 346.98L112.11 346.6L112.25 346.43L112.39 346.18L112.53 346.31L112.67 345.98L112.81 345.84L112.95 345.57L113.08 345.58L113.22 345.34L113.36 345.12L113.5 345.18L113.64 344.99L113.78 344.74L113.92 344.91L114.06 344.46L114.2 344.56L114.34 344.39L114.48 344.32L114.62 344.02L114.76 343.99L114.9 343.79L115.04 343.89L115.18 343.5L115.32 343.39L115.46 343.32L115.6 343.35L115.74 343.21L115.88 343.02L116.02 343.03L116.16 342.6L116.3 342.66L116.44 342.35L116.58 342.49L116.72 342.21L116.86 342.03L117 341.96L117.14 341.91L117.28 341.92L117.42 341.65L117.56 341.55L117.7 341.23L117.84 341.1L117.98 340.98L118.12 340.85L118.26 341.01L118.4 340.94L118.54 340.75L118.67 340.75L118.81 340.64L118.95 340.42L119.09 340.49L119.23 340.3L119.37 340.33L119.51 340.32L119.65 340.04L119.79 340.26L119.93 339.98L120.07 340.06L120.21 339.97L120.35 340.1L120.49 339.85L120.63 339.76L120.77 339.95L120.91 339.81L121.05 339.71L121.19 339.72L121.33 339.58L121.47 339.57L121.61 339.64L121.75 339.47L121.89 339.4L122.03 339.46L122.17 339.37L122.31 339.31L122.45 339.32L122.59 339.41L122.73 339.26L122.87 339.09L123.01 339.06L123.15 339.24L123.29 339.05L123.43 338.97L123.57 338.95L123.71 339.03L123.85 338.82L123.99 338.76L124.13 338.78L124.27 338.61L124.4 338.7L124.54 338.87L124.68 338.75L124.82 338.58L124.96 338.77L125.1 338.45L125.24 338.52L125.38 338.48L125.52 338.66L125.66 338.69L125.8 338.38L125.94 338.48L126.08 338.48L126.22 338.43L126.36 338.33L126.5 338.44L126.64 338.29L126.78 338.47L126.92 338.17L127.06 338.25L127.2 338.35L127.34 338.28L127.48 338.12L127.62 338.29L127.76 338.14L127.9 338.05L128.04 338.01L128.18 338.23L128.32 338.02L128.46 338.07L128.6 337.98L128.74 338.21L128.88 338.07L129.02 338.03L129.16 337.89L129.3 337.99L129.44 338.11L129.58 338.04L129.72 337.81L129.85 337.77L129.99 337.86L130.13 338.02L130.27 337.78L130.41 337.73L130.55 337.92L130.69 337.85L130.83 337.9L130.97 337.97L131.11 337.74L131.25 337.92L131.39 337.94L131.53 337.65L131.67 337.92L131.81 337.69L131.95 337.66L132.09 337.84L132.23 337.79L132.37 337.83L132.51 337.66L132.65 337.56L132.79 337.63L132.93 337.71L133.07 337.68L133.21 337.72L133.35 337.61L133.49 337.75L133.63 337.75L133.77 337.59L133.91 337.73L134.05 337.47L134.19 337.55L134.33 337.73L134.47 337.77L134.61 337.57L134.75 337.72L134.89 337.59L135.03 337.54L135.17 337.47L135.31 337.6L135.44 337.54L135.58 337.44L135.72 337.66L135.86 337.58L136 337.42L136.14 337.56L136.28 337.36L136.42 337.63L136.56 337.63L136.7 337.52L136.84 337.48L136.98 337.51L137.12 337.55L137.26 337.46L137.4 337.3L137.54 337.28L137.68 337.38L137.82 337.49L137.96 337.38L138.1 337.51L138.24 337.54L138.38 337.29L138.52 337.46L138.66 337.5L138.8 337.27L138.94 337.51L139.08 337.47L139.22 337.49L139.36 337.24L139.5 337.31L139.64 337.48L139.78 337.52L139.92 337.23L140.06 337.49L140.2 337.3L140.34 337.3L140.48 337.34L140.62 337.37L140.76 337.39L140.9 337.44L141.03 337.31L141.17 337.48L141.31 337.37L141.45 337.44L141.59 337.4L141.73 337.22L141.87 337.33L142.01 337.3L142.15 337.3L142.29 337.52L142.43 337.25L142.57 337.22L142.71 337.26L142.85 337.34L142.99 337.23L143.13 337.19L143.27 337.42L143.41 337.45L143.55 337.39L143.69 337.5L143.83 337.43L143.97 337.48L144.11 337.5L144.25 337.37L144.39 337.5L144.53 337.34L144.67 337.21L144.81 337.26L144.95 337.48L145.09 337.25L145.23 337.43L145.37 337.22L145.51 337.27L145.65 337.31L145.79 337.34L145.93 337.16L146.07 337.42L146.21 337.18L146.35 337.42L146.49 337.45L146.62 337.41L146.76 337.47L146.9 337.2L147.04 337.42L147.18 337.28L147.32 337.38L147.46 337.35L147.6 337.21L147.74 337.29L147.88 337.38L148.02 337.22L148.16 337.42L148.3 337.46L148.44 337.23L148.58 337.18L148.72 337.21L148.86 337.23L149 337.15L149.14 337.15L149.28 337.27L149.42 337.4L149.56 337.26L149.7 337.31L149.84 337.22L149.98 337.34L150.12 337.43L150.26 337.39L150.4 337.4L150.54 337.2L150.68 337.22L150.82 337.27L150.96 337.34L151.1 337.2L151.24 337.29L151.38 337.28L151.52 337.38L151.66 337.1L151.8 337.29L151.94 337.28L152.08 337.37L152.21 337.28L152.35 337.28L152.49 337.29L152.63 337.18L152.77 337.32L152.91 337.22L153.05 337.2L153.19 337.38L153.33 337.15L153.47 337.4L153.61 337.34L153.75 337.14L153.89 337.38L154.03 337.33L154.17 337.28L154.31 337.1L154.45 337.09L154.59 337.34L154.73 337.2L154.87 337.13L155.01 337.24L155.15 337.31L155.29 337.36L155.43 337.39L155.57 337.39L155.71 337.39L155.85 337.16L155.99 337.2L156.13 337.38L156.27 337.09L156.41 337.07L156.55 337.26L156.69 337.28L156.83 337.1L156.97 337.17L157.11 337.14L157.25 337.33L157.39 337.15L157.53 337.24L157.67 337.37L157.81 337.37L157.94 337.3L158.08 337.31L158.22 337.29L158.36 337.08L158.5 337.25L158.64 337.31L158.78 337.35L158.92 337.36L159.06 337.24L159.2 337.24L159.34 337.35L159.48 337.2L159.62 337.26L159.76 337.37L159.9 337.21L160.04 337.32L160.18 337.31L160.32 337.11L160.46 337.22L160.6 337.25L160.74 337.18L160.88 337.12L161.02 337.15L161.16 337.04L161.3 337.12L161.44 337.24L161.58 337.04L161.72 337.35L161.86 337.29L162 337.31L162.14 337.22L162.28 337.23L162.42 337.22L162.56 337.14L162.7 337.23L162.84 337.18L162.98 337.12L163.12 337.03L163.26 337.02L163.39 337.22L163.53 337.21L163.67 337L163.81 337.05L163.95 337.04L164.09 337.3L164.23 337.24L164.37 337.19L164.51 337.23L164.65 337.17L164.79 337.01L164.93 337.2L165.07 337.16L165.21 337.22L165.35 337.13L165.49 337.14L165.63 337.26L165.77 337.3L165.91 337.07L166.05 337.04L166.19 337.2L166.33 337.25L166.47 337.28L166.61 337.1L166.75 337.12L166.89 337L167.03 337.08L167.17 337.12L167.31 337.11L167.45 337L167.59 337L167.73 337.25L167.87 337.26L168.01 337.26L168.15 337.3L168.29 337.01L168.43 336.97L168.57 337.13L168.71 337.04L168.85 337.07L168.99 337.07L169.12 337.16L169.26 336.97L169.4 337.19L169.54 337.26L169.68 337.27L169.82 337.02L169.96 337.02L170.1 337L170.24 337.01L170.38 337.21L170.52 337.16L170.66 337.19L170.8 336.99L170.94 337.28L171.08 337.17L171.22 337.06L171.36 337.06L171.5 337.27L171.64 337.23L171.78 337.21L171.92 337.2L172.06 337.1L172.2 337.26L172.34 336.99L172.48 337.11L172.62 337.04L172.76 337.14L172.9 336.98L173.04 337.23L173.18 336.97L173.32 337.18L173.46 337.08L173.6 337.07L173.74 337.03L173.88 337.07L174.02 337.01L174.16 337.23L174.3 337.07L174.44 337.08L174.57 337.04L174.71 337.21L174.85 337.01L174.99 337.22L175.13 337.23L175.27 337.22L175.41 336.91L175.55 337.19L175.69 337.01L175.83 337.22L175.97 337.03L176.11 337.16L176.25 337.03L176.39 336.98L176.53 337L176.67 337.05L176.81 336.99L176.95 337.23L177.09 337.21L177.23 337.15L177.37 337.07L177.51 336.97L177.65 337.21L177.79 337.15L177.93 337.04L178.07 337.11L178.21 337.19L178.35 337.12L178.49 337.21L178.63 337.21L178.77 336.93L178.91 337.11L179.05 336.97L179.19 337.13L179.33 336.96L179.47 336.91L179.61 337.2L179.75 337L179.89 336.9L180.03 336.94L180.17 337.16L180.3 336.95L180.44 336.94L180.58 337.14L180.72 336.97L180.86 336.98L181 337.13L181.14 336.92L181.28 336.9L181.42 337.17L181.56 337.03L181.7 336.99L181.84 337.18L181.98 337.01L182.12 336.87L182.26 337.07L182.4 337.02L182.54 336.86L182.68 336.88L182.82 336.86L182.96 337.15L183.1 336.84L183.24 337.06L183.38 337.05L183.52 337.11L183.66 336.9L183.8 336.97L183.94 337.01L184.08 337L184.22 336.99L184.36 336.97L184.5 337.11L184.64 336.92L184.78 337.07L184.92 337.15L185.06 336.84L185.2 337.13L185.34 336.89L185.48 336.9L185.62 337.01L185.75 336.95L185.89 337.07L186.03 337.08L186.17 336.85L186.31 336.9L186.45 336.89L186.59 336.99L186.73 337.13L186.87 336.88L187.01 336.82L187.15 337.04L187.29 336.93L187.43 337.09L187.57 336.81L187.71 336.9L187.85 337.12L187.99 336.9L188.13 336.91L188.27 336.99L188.41 336.94L188.55 336.82" stroke="#12b312" stroke-width="1" fill="none"/>
<line x1="196.2" y1="316.2" x2="206.9" y2="316.2" stroke="#12b312" stroke-width="1.8"/>
<text x="208.88" y="319" font-size="7.85" textLength="51.61" lengthAdjust="spacingAndGlyphs">Microlyse + Plg</text>
<line x1="196.2" y1="327.85" x2="206.9" y2="327.85" stroke="#a5a6aa" stroke-width="1.8"/>
<text x="208.87" y="330.65" font-size="7.85" textLength="68.62" lengthAdjust="spacingAndGlyphs">Neg-Microlyse + Plg</text>
<line x1="196.2" y1="339.5" x2="206.9" y2="339.5" stroke="#111" stroke-width="1.8"/>
<text x="208.89" y="342.3" font-size="7.85" textLength="47.43" lengthAdjust="spacingAndGlyphs">Microlyse only</text>
<text x="312.35" y="305.6" font-size="11.2" textLength="6.86" lengthAdjust="spacingAndGlyphs" font-weight="bold" fill="#000">F</text>
<line x1="342.2" y1="308.5" x2="342.2" y2="405.75" stroke="#141213" stroke-width="1.3"/>
<line x1="339" y1="405.1" x2="342.2" y2="405.1" stroke="#141213" stroke-width="1"/>
<text x="332.17" y="407.85" font-size="8.6" textLength="4.34" lengthAdjust="spacingAndGlyphs">0</text>
<line x1="339" y1="382.1" x2="342.2" y2="382.1" stroke="#141213" stroke-width="1"/>
<text x="332.19" y="384.85" font-size="8.6" textLength="4.34" lengthAdjust="spacingAndGlyphs">5</text>
<line x1="339" y1="359.1" x2="342.2" y2="359.1" stroke="#141213" stroke-width="1"/>
<text x="327.83" y="361.85" font-size="8.6" textLength="8.68" lengthAdjust="spacingAndGlyphs">10</text>
<line x1="339" y1="336.1" x2="342.2" y2="336.1" stroke="#141213" stroke-width="1"/>
<text x="327.85" y="338.85" font-size="8.6" textLength="8.68" lengthAdjust="spacingAndGlyphs">15</text>
<line x1="339" y1="313.1" x2="342.2" y2="313.1" stroke="#141213" stroke-width="1"/>
<text x="327.83" y="315.85" font-size="8.6" textLength="8.68" lengthAdjust="spacingAndGlyphs">20</text>
<line x1="369.9" y1="405.1" x2="369.9" y2="407.7" stroke="#141213" stroke-width="1"/>
<line x1="411.3" y1="405.1" x2="411.3" y2="407.7" stroke="#141213" stroke-width="1"/>
<line x1="453" y1="405.1" x2="453" y2="407.7" stroke="#141213" stroke-width="1"/>
<line x1="343.2" y1="317.3" x2="477.5" y2="317.3" stroke="#141213" stroke-width="1.1" stroke-dasharray="4.3 2.1" stroke-dashoffset="3.6"/>
<rect x="440" y="317" width="25.75" height="88.1" fill="#13507e" stroke="#0c4472" stroke-width="0.6"/>
<path d="M369.65 401.4V397.6M362.75 397.6H376.55" stroke="#231f20" stroke-width="0.8" fill="none"/>
<rect x="356.6" y="400.4" width="26.1" height="4.7" fill="#3db44b" stroke="#2aa63c" stroke-width="0.6"/>
<path d="M411.38 367.2V355.4M404.48 355.4H418.27" stroke="#231f20" stroke-width="0.8" fill="none"/>
<rect x="398.25" y="366.2" width="26.25" height="38.9" fill="#c4142f" stroke="#b30d27" stroke-width="0.6"/>
<text x="481.57" y="320.2" font-size="8" textLength="25.42" lengthAdjust="spacingAndGlyphs">Cut-off</text>
<text x="446.27" y="312.5" font-size="8" textLength="12.91" lengthAdjust="spacingAndGlyphs">ND</text>
<path d="M369.9 338.7H411.5M369.9 337.1V340.3M411.5 337.1V340.3" stroke="#414042" stroke-width="0.75" fill="none"/>
<text x="379.1" y="335.5" font-size="7.6" textLength="23.28" lengthAdjust="spacingAndGlyphs">0.0012</text>
<text x="345.53" y="418.3" font-size="8.3" textLength="34.53" lengthAdjust="spacingAndGlyphs">Microlyse</text>
<text x="353.89" y="427.1" font-size="8.3" textLength="19.35" lengthAdjust="spacingAndGlyphs">+ Plg</text>
<text x="401.8" y="417.6" font-size="8.3" textLength="18.58" lengthAdjust="spacingAndGlyphs">Neg-</text>
<text x="393.83" y="427.6" font-size="8.3" textLength="34.53" lengthAdjust="spacingAndGlyphs">Microlyse</text>
<text x="402.09" y="436.6" font-size="8.3" textLength="19.19" lengthAdjust="spacingAndGlyphs">+ Plg</text>
<text x="435.57" y="418.2" font-size="8.3" textLength="34.79" lengthAdjust="spacingAndGlyphs">Microlyse</text>
<text x="445.15" y="427.1" font-size="8.3" textLength="15.37" lengthAdjust="spacingAndGlyphs">only</text>
<text transform="translate(320.6 383.6) rotate(-90)" x="-0.6" y="0" font-size="9" textLength="55.06" lengthAdjust="spacingAndGlyphs">Lysis times (min)</text>
<text x="8.53" y="452" font-size="11.2" textLength="8.88" lengthAdjust="spacingAndGlyphs" font-weight="bold" fill="#000">G</text>
<line x1="48.6" y1="459.4" x2="48.6" y2="553.05" stroke="#141213" stroke-width="1.3"/>
<line x1="45.4" y1="552.4" x2="48.6" y2="552.4" stroke="#141213" stroke-width="1"/>
<text x="38.47" y="555.15" font-size="8.6" textLength="4.34" lengthAdjust="spacingAndGlyphs">0</text>
<line x1="45.4" y1="535.5" x2="48.6" y2="535.5" stroke="#141213" stroke-width="1"/>
<text x="34.13" y="538.25" font-size="8.6" textLength="8.68" lengthAdjust="spacingAndGlyphs">20</text>
<line x1="45.4" y1="518.6" x2="48.6" y2="518.6" stroke="#141213" stroke-width="1"/>
<text x="34.13" y="521.35" font-size="8.6" textLength="8.68" lengthAdjust="spacingAndGlyphs">40</text>
<line x1="45.4" y1="501.7" x2="48.6" y2="501.7" stroke="#141213" stroke-width="1"/>
<text x="34.13" y="504.45" font-size="8.6" textLength="8.68" lengthAdjust="spacingAndGlyphs">60</text>
<line x1="45.4" y1="484.8" x2="48.6" y2="484.8" stroke="#141213" stroke-width="1"/>
<text x="34.13" y="487.55" font-size="8.6" textLength="8.68" lengthAdjust="spacingAndGlyphs">80</text>
<line x1="45.4" y1="467.9" x2="48.6" y2="467.9" stroke="#141213" stroke-width="1"/>
<text x="29.79" y="470.65" font-size="8.6" textLength="13.02" lengthAdjust="spacingAndGlyphs">100</text>
<line x1="47.95" y1="552.4" x2="193.4" y2="552.4" stroke="#141213" stroke-width="1.3"/>
<line x1="48.6" y1="552.4" x2="48.6" y2="555" stroke="#141213" stroke-width="1"/>
<text x="46.43" y="564.8" font-size="8.6" textLength="4.34" lengthAdjust="spacingAndGlyphs">0</text>
<line x1="71.9" y1="552.4" x2="71.9" y2="555" stroke="#141213" stroke-width="1"/>
<text x="67.42" y="564.8" font-size="8.6" textLength="8.68" lengthAdjust="spacingAndGlyphs">10</text>
<line x1="95.2" y1="552.4" x2="95.2" y2="555" stroke="#141213" stroke-width="1"/>
<text x="90.82" y="564.8" font-size="8.6" textLength="8.68" lengthAdjust="spacingAndGlyphs">20</text>
<line x1="118.5" y1="552.4" x2="118.5" y2="555" stroke="#141213" stroke-width="1"/>
<text x="114.16" y="564.8" font-size="8.6" textLength="8.68" lengthAdjust="spacingAndGlyphs">30</text>
<line x1="141.8" y1="552.4" x2="141.8" y2="555" stroke="#141213" stroke-width="1"/>
<text x="137.52" y="564.8" font-size="8.6" textLength="8.68" lengthAdjust="spacingAndGlyphs">40</text>
<line x1="165.1" y1="552.4" x2="165.1" y2="555" stroke="#141213" stroke-width="1"/>
<text x="160.76" y="564.8" font-size="8.6" textLength="8.68" lengthAdjust="spacingAndGlyphs">50</text>
<line x1="188.4" y1="552.4" x2="188.4" y2="555" stroke="#141213" stroke-width="1"/>
<text x="184.01" y="564.8" font-size="8.6" textLength="8.68" lengthAdjust="spacingAndGlyphs">60</text>
<line x1="48.6" y1="552.4" x2="48.6" y2="554.6" stroke="#141213" stroke-width="0.9"/>
<line x1="53.26" y1="552.4" x2="53.26" y2="554.6" stroke="#141213" stroke-width="0.9"/>
<line x1="57.92" y1="552.4" x2="57.92" y2="554.6" stroke="#141213" stroke-width="0.9"/>
<line x1="62.58" y1="552.4" x2="62.58" y2="554.6" stroke="#141213" stroke-width="0.9"/>
<line x1="67.24" y1="552.4" x2="67.24" y2="554.6" stroke="#141213" stroke-width="0.9"/>
<line x1="71.9" y1="552.4" x2="71.9" y2="554.6" stroke="#141213" stroke-width="0.9"/>
<line x1="76.56" y1="552.4" x2="76.56" y2="554.6" stroke="#141213" stroke-width="0.9"/>
<line x1="81.22" y1="552.4" x2="81.22" y2="554.6" stroke="#141213" stroke-width="0.9"/>
<line x1="85.88" y1="552.4" x2="85.88" y2="554.6" stroke="#141213" stroke-width="0.9"/>
<line x1="90.54" y1="552.4" x2="90.54" y2="554.6" stroke="#141213" stroke-width="0.9"/>
<line x1="95.2" y1="552.4" x2="95.2" y2="554.6" stroke="#141213" stroke-width="0.9"/>
<line x1="99.86" y1="552.4" x2="99.86" y2="554.6" stroke="#141213" stroke-width="0.9"/>
<line x1="104.52" y1="552.4" x2="104.52" y2="554.6" stroke="#141213" stroke-width="0.9"/>
<line x1="109.18" y1="552.4" x2="109.18" y2="554.6" stroke="#141213" stroke-width="0.9"/>
<line x1="113.84" y1="552.4" x2="113.84" y2="554.6" stroke="#141213" stroke-width="0.9"/>
<line x1="118.5" y1="552.4" x2="118.5" y2="554.6" stroke="#141213" stroke-width="0.9"/>
<line x1="123.16" y1="552.4" x2="123.16" y2="554.6" stroke="#141213" stroke-width="0.9"/>
<line x1="127.82" y1="552.4" x2="127.82" y2="554.6" stroke="#141213" stroke-width="0.9"/>
<line x1="132.48" y1="552.4" x2="132.48" y2="554.6" stroke="#141213" stroke-width="0.9"/>
<line x1="137.14" y1="552.4" x2="137.14" y2="554.6" stroke="#141213" stroke-width="0.9"/>
<line x1="141.8" y1="552.4" x2="141.8" y2="554.6" stroke="#141213" stroke-width="0.9"/>
<line x1="146.46" y1="552.4" x2="146.46" y2="554.6" stroke="#141213" stroke-width="0.9"/>
<line x1="151.12" y1="552.4" x2="151.12" y2="554.6" stroke="#141213" stroke-width="0.9"/>
<line x1="155.78" y1="552.4" x2="155.78" y2="554.6" stroke="#141213" stroke-width="0.9"/>
<line x1="160.44" y1="552.4" x2="160.44" y2="554.6" stroke="#141213" stroke-width="0.9"/>
<line x1="165.1" y1="552.4" x2="165.1" y2="554.6" stroke="#141213" stroke-width="0.9"/>
<line x1="169.76" y1="552.4" x2="169.76" y2="554.6" stroke="#141213" stroke-width="0.9"/>
<line x1="174.42" y1="552.4" x2="174.42" y2="554.6" stroke="#141213" stroke-width="0.9"/>
<line x1="179.08" y1="552.4" x2="179.08" y2="554.6" stroke="#141213" stroke-width="0.9"/>
<line x1="183.74" y1="552.4" x2="183.74" y2="554.6" stroke="#141213" stroke-width="0.9"/>
<line x1="188.4" y1="552.4" x2="188.4" y2="554.6" stroke="#141213" stroke-width="0.9"/>
<text x="102.83" y="578.2" font-size="10" textLength="37.06" lengthAdjust="spacingAndGlyphs">Time (min)</text>
<text transform="translate(26.4 550.7) rotate(-90)" x="-0.61" y="0" font-size="8.8" textLength="89.37" lengthAdjust="spacingAndGlyphs">Platelets in suspension (%)</text>
<line x1="62.7" y1="460.8" x2="62.7" y2="552.4" stroke="#141213" stroke-width="1.1" stroke-dasharray="4 2.35"/>
<path d="M52.33 532.14L52.44 531.14L52.56 527.75L52.68 532.02L52.79 531.62L52.91 530.89L53.03 534.63L53.14 531.59L53.26 530.49L53.38 528.97L53.49 535.47L53.61 533.52L53.73 535.5L53.84 528.82L53.96 529.9L54.08 535.96L54.19 527.22L54.31 527.38L54.43 530.27L54.54 530.62L54.66 534.88L54.77 536.21L54.89 531.43L55.01 535.79L55.12 534.58L55.24 534.1L55.36 536.07L55.47 532.03L55.59 532.25L55.71 528.51L55.82 531.52L55.94 530.39L56.06 531.7L56.17 530.19L56.29 532.09L56.41 533.76L56.52 527.07L56.64 527.09L56.76 528.54L56.87 529.77L56.99 533.41L57.1 534.21L57.22 533.66L57.34 535.69L57.45 529.22L57.57 532.62L57.69 528.48L57.8 532.75L57.92 527.44L58.04 528.47L58.15 536.34L58.27 534.4L58.39 527.88L58.5 531.98L58.62 527.23L58.74 532.65L58.85 535.67L58.97 530.49L59.09 529.11L59.2 533.84L59.32 535.53L59.43 533.25L59.55 527.38L59.67 529.3L59.78 535.25L59.9 534.05L60.02 535.41L60.13 535.79L60.25 528.94L60.37 534.69L60.48 531.15L60.6 532.19L60.72 534.57L60.83 529.54L60.95 535.13L61.07 530.36L61.18 535.26L61.3 532.43L61.42 534.37L61.53 533.84L61.65 527.32L61.76 528.88L61.88 533.52L62 528.12L62.11 534.39L62.23 534.09L62.35 531.02L62.46 538.85L62.58 537.88L62.7 533.11L62.81 537.16L62.93 538.91L63.05 537.59L63.16 536.49L63.28 531.48L63.4 534.74L63.51 538.07L63.63 531.88L63.75 537.49L63.86 533.31L63.98 537.92L64.09 532.07L64.21 535.99L64.33 539.24L64.44 537.53L64.56 537.36L64.68 534.46L64.79 538.04L64.91 538.94L65.03 534.75L65.14 534.27L65.26 531.68L65.38 539.35L65.49 535.68L65.61 537.97L65.73 534.59L65.84 536.37L65.96 531.07L66.08 533.5L66.19 538.15L66.31 539.16L66.42 533.31L66.54 539.06L66.66 535.1L66.77 536.45L66.89 538.49L67.01 532.82L67.12 532.78L67.24 532.27L67.36 535.99L67.47 531.28L67.59 535.37L67.71 531.53L67.82 533.52L67.94 533.85L68.06 538.09L68.17 530.28L68.29 532.5L68.41 532.41L68.52 534.88L68.64 537.88L68.75 538.31L68.87 534.43L68.99 532.54L69.1 533.22L69.22 534.63L69.34 532.61L69.45 536.9L69.57 532.69L69.69 530.68L69.8 532.57L69.92 534.53L70.04 530.38L70.15 534.86L70.27 535.4L70.39 533.83L70.5 530.8L70.62 529.9L70.74 536.51L70.85 535.57L70.97 534.36L71.08 533.64L71.2 530.66L71.32 533.92L71.43 537.47L71.55 537.35L71.67 532.81L71.78 529.7L71.9 530.77L72.02 535.52L72.13 537.09L72.25 533.63L72.37 531.8L72.48 529.16L72.6 535.58L72.72 533.66L72.83 531.08L72.95 534.79L73.07 531.12L73.18 531.77L73.3 533.6L73.41 529.18L73.53 528.9L73.65 535.69L73.76 531.41L73.88 533.48L74 529.14L74.11 528.54L74.23 530.98L74.35 530.32L74.46 530.95L74.58 534.55L74.7 527.96L74.81 531.68L74.93 533.48L75.05 528.86L75.16 535.39L75.28 531.36L75.4 528.94L75.51 535.39L75.63 534.41L75.74 529.12L75.86 534.51L75.98 529.56L76.09 529.8L76.21 531.42L76.33 534.83L76.44 531.02L76.56 529.25L76.68 530.95L76.79 530.58L76.91 532.05L77.03 527.57L77.14 527.94L77.26 530.67L77.38 533.37L77.49 530.74L77.61 534.74L77.73 530.52L77.84 528.04L77.96 530.63L78.07 534.2L78.19 531.18L78.31 526.79L78.42 530.57L78.54 530.85L78.66 526.82L78.77 531.74L78.89 529.12L79.01 533.22L79.12 534.07L79.24 532.27L79.36 531.41L79.47 528.82L79.59 527.81L79.71 529.63L79.82 532.24L79.94 530.14L80.06 530.28L80.17 532.39L80.29 528.31L80.4 529.12L80.52 528.36L80.64 531.53L80.75 526.55L80.87 530.71L80.99 525.48L81.1 524.78L81.22 532.08L81.34 526.98L81.45 532.28L81.57 529.46L81.69 531.92L81.8 525.74L81.92 527.06L82.04 524.57L82.15 528.45L82.27 528.42L82.39 531.04L82.5 531.68L82.62 527.83L82.73 527.63L82.85 530.84L82.97 525.2L83.08 524.4L83.2 531.71L83.32 528.25L83.43 529.34L83.55 527.68L83.67 524.27L83.78 524.76L83.9 528.02L84.02 528.38L84.13 530.37L84.25 531.59L84.37 524.83L84.48 524.27L84.6 528.1L84.72 527.19L84.83 524.57L84.95 523.61L85.06 524.68L85.18 527.8L85.3 523.7L85.41 524.6L85.53 527.62L85.65 530.42L85.76 525.22L85.88 525.46L86 528.87L86.11 525.12L86.23 525.11L86.35 526.13L86.46 522.1L86.58 524.58L86.7 519.75L86.81 524.15L86.93 526.96L87.05 528.66L87.16 529.43L87.28 522.5L87.39 525.83L87.51 525.26L87.63 524.6L87.74 529.33L87.86 523.45L87.98 521.94L88.09 525.79L88.21 525.52L88.33 529.19L88.44 526.05L88.56 524.48L88.68 527.08L88.79 524.68L88.91 523.29L89.03 529.22L89.14 528.92L89.26 522.8L89.38 521.52L89.49 528.68L89.61 521L89.72 521.28L89.84 524.87L89.96 526.8L90.07 520.83L90.19 524.77L90.31 521.75L90.42 527.66L90.54 524.7L90.66 528.08L90.77 527.41L90.89 522.73L91.01 526.13L91.12 524.74L91.24 523.74L91.36 520.1L91.47 526.13L91.59 520.5L91.71 522.73L91.82 525.69L91.94 523.14L92.05 522.51L92.17 526.23L92.29 519.45L92.4 520.26L92.52 527.17L92.64 524.02L92.75 526.71L92.87 526.92L92.99 521.72L93.1 522.05L93.22 523.3L93.34 524.4L93.45 520.13L93.57 526.2L93.69 521.86L93.8 525.3L93.92 524.87L94.04 523.87L94.15 518.54L94.27 522.24L94.38 519.01L94.5 523.66L94.62 519.3L94.73 525.99L94.85 522.52L94.97 524.05L95.08 525.9L95.2 520.85L95.32 523.85L95.43 520.48L95.55 525.12L95.67 520.1L95.78 525.23L95.9 521.33L96.02 518.12L96.13 522.35L96.25 523.43L96.37 522.57L96.48 518.3L96.6 522.79L96.71 522.72L96.83 522.46L96.95 520.91L97.06 521.06L97.18 520.82L97.3 519.09L97.41 520.96L97.53 520.82L97.65 517.17L97.76 518.5L97.88 520.64L98 524.53L98.11 518.92L98.23 524.42L98.35 523.86L98.46 519.51L98.58 523.11L98.7 520.49L98.81 521.52L98.93 516.58L99.04 520.57L99.16 518.58L99.28 516.88L99.39 517.58L99.51 517.3L99.63 517.42L99.74 516.31L99.86 519.95L99.98 517.53L100.09 520.73L100.21 517.94L100.33 521.01L100.44 522.41L100.56 521.61L100.68 523.55L100.79 523.02L100.91 517.34L101.03 523.36L101.14 518.87L101.26 523.48L101.37 522.17L101.49 521.68L101.61 518.57L101.72 522.01L101.84 522.06L101.96 520.82L102.07 516.47L102.19 521.16L102.31 515.53L102.42 518.61L102.54 519.11L102.66 522.74L102.77 516.29L102.89 518.57L103.01 520.68L103.12 517.37L103.24 522.83L103.36 519.71L103.47 516.75L103.59 521.44L103.7 520L103.82 515.29L103.94 517.22L104.05 520.33L104.17 521.27L104.29 522.49L104.4 515.25L104.52 521.71L104.64 516.27L104.75 518.23L104.87 514.16L104.99 514.95L105.1 515.48L105.22 514.37L105.34 515.09L105.45 517.42L105.57 520.61L105.69 519.28L105.8 521.19L105.92 517.88L106.03 518.73L106.15 520.79L106.27 517.79L106.38 514.7L106.5 521.41L106.62 515.6L106.73 516.76L106.85 521.26L106.97 514.74L107.08 516.2L107.2 518.12L107.32 518.71L107.43 517.89L107.55 518.95L107.67 515.05L107.78 513.28L107.9 515.02L108.02 514.15L108.13 519.63L108.25 515.27L108.36 519.22L108.48 513.91L108.6 519.83L108.71 519.25L108.83 517.21L108.95 513.08L109.06 516.29L109.18 514.22L109.3 517.19L109.41 515.07L109.53 514.62L109.65 513.88L109.76 513.57L109.88 517.29L110 519.08L110.11 515.89L110.23 513.39L110.35 518.53L110.46 512.71L110.58 516.92L110.69 518.5L110.81 511.95L110.93 513.99L111.04 517.92L111.16 514.58L111.28 518.69L111.39 514.88L111.51 516.72L111.63 516.43L111.74 518.18L111.86 518.04L111.98 514.91L112.09 514.74L112.21 512.07L112.33 512.72L112.44 517.88L112.56 516.59L112.68 516.9L112.79 512.46L112.91 514.52L113.02 518.29L113.14 511.18L113.26 513.57L113.37 513.43L113.49 515.52L113.61 511.02L113.72 514.79L113.84 515.34L113.96 516.84L114.07 516.14L114.19 515.59L114.31 517.67L114.42 516.85L114.54 513.51L114.66 514.83L114.77 512.79L114.89 512.29L115.01 510.51L115.12 511.47L115.24 514.43L115.35 511.03L115.47 513.68L115.59 510.95L115.7 516.91L115.82 510.9L115.94 512.99L116.05 514.99L116.17 516.59L116.29 513.9L116.4 514.2L116.52 512.08L116.64 515.2L116.75 514.06L116.87 516.27L116.99 510.03L117.1 510.68L117.22 511.05L117.34 511.41L117.45 510.3L117.57 511.01L117.68 512.7L117.8 516.3L117.92 514.22L118.03 515.77L118.15 510.64L118.27 513.69L118.38 515.72L118.5 509.96L118.62 512.59L118.73 509.35L118.85 514.44L118.97 509.63L119.08 514.4L119.2 513.31L119.32 514.46L119.43 508.99L119.55 511.33L119.67 509.67L119.78 514.68L119.9 513.28L120.01 509.61L120.13 514.33L120.25 509.09L120.36 514.58L120.48 513.06L120.6 513.72L120.71 513.42L120.83 509.82L120.95 510.6L121.06 511.01L121.18 512.8L121.3 510.43L121.41 510.56L121.53 508.35L121.65 511.17L121.76 514.15L121.88 512.6L122 509.31L122.11 512.49L122.23 512.69L122.34 510.76L122.46 508.56L122.58 513.84L122.69 509.38L122.81 508.24L122.93 512.78L123.04 509.89L123.16 509.77L123.28 510.58L123.39 508.54L123.51 510.46L123.63 512.5L123.74 512.5L123.86 512.03L123.98 508.77L124.09 508.61L124.21 510.37L124.33 509.78L124.44 512.96L124.56 508.89L124.67 507.92L124.79 510.01L124.91 510.4L125.02 511.35L125.14 512.41L125.26 509.48L125.37 508.14L125.49 511.83L125.61 512.37L125.72 508.99L125.84 510.99L125.96 511.94L126.07 511.42L126.19 511.43L126.31 507.57L126.42 511.88L126.54 510.12L126.66 506.66L126.77 509.32L126.89 506.49L127 509.41L127.12 511.68L127.24 506.9L127.35 509.61L127.47 509.39L127.59 511.49L127.7 507.43L127.82 510.31L127.94 508.5L128.05 508.95L128.17 509.43L128.29 506.04L128.4 511.08L128.52 507.74L128.64 509.34L128.75 506.5L128.87 506.34L128.99 508.93L129.1 508.94L129.22 509.77L129.33 509.88L129.45 509.94L129.57 509.62L129.68 509.07L129.8 505.45L129.92 506.09L130.03 508.54L130.15 506.89L130.27 507.69L130.38 509.01L130.5 505.57L130.62 508.88L130.73 509.41L130.85 508.31L130.97 506.42L131.08 509.93L131.2 508.05L131.32 505.51L131.43 506.04L131.55 509.57L131.66 508.62L131.78 509.01L131.9 509.56L132.01 507.58L132.13 508.95L132.25 508.3L132.36 506.28L132.48 508.49L132.6 505.98L132.71 507.53L132.83 508.26L132.95 507.65L133.06 506.62L133.18 506.51L133.3 504.53L133.41 505.95L133.53 508.06L133.65 505.89L133.76 504.91L133.88 505.98L133.99 506.91L134.11 508.58L134.23 507.29L134.34 507.47L134.46 506.87L134.58 507.91L134.69 507.53L134.81 507.03L134.93 507.86L135.04 505.32L135.16 503.45L135.28 506.77L135.39 506.55L135.51 506.1L135.63 506.18L135.74 505.38L135.86 504.23L135.98 506.98L136.09 507.27L136.21 505.35L136.32 506.42L136.44 503.86L136.56 505.19L136.67 506.09L136.79 506.63L136.91 504L137.02 503.84L137.14 507.11L137.26 506.33L137.37 503.47L137.49 506.74L137.61 504.65L137.72 507.46L137.84 505.77L137.96 505.32L138.07 505.06L138.19 504.97L138.31 503.26L138.42 505.77L138.54 505.87L138.65 504.28L138.77 503.16L138.89 506.37L139 505L139.12 505.44L139.24 503.89L139.35 505.89L139.47 505.5L139.59 504.72L139.7 506.45L139.82 506.25L139.94 506.17L140.05 503.57L140.17 505.89L140.29 503.12L140.4 505.45L140.52 503.34L140.64 503.61L140.75 503.58L140.87 504.99L140.98 503.03L141.1 504.03L141.22 503.48L141.33 502.98L141.45 505.56L141.57 503.51L141.68 502.92L141.8 502.45L141.92 505.36L142.03 504.28L142.15 504.32L142.27 502.12L142.38 503.09L142.5 505.5L142.62 502.95L142.73 505.14L142.85 505.44L142.97 503.74L143.08 504.34L143.2 502.36L143.31 503.96L143.43 502.56L143.55 503.89L143.66 503.28L143.78 504.7L143.9 504.81L144.01 504.24L144.13 504.68L144.25 505.01L144.36 504.52L144.48 504L144.6 503.21L144.71 503.98L144.83 504.66L144.95 503.72L145.06 504.15L145.18 501.14L145.3 501.57L145.41 503.19L145.53 503.22L145.64 502.61L145.76 502.31L145.88 501.12L145.99 500.88L146.11 501.43L146.23 502.52L146.34 503.96L146.46 503.04L146.58 503.18L146.69 504.24L146.81 498.56L146.93 501.24L147.04 501.48L147.16 501.19L147.28 501.28L147.39 503.68L147.51 502.54L147.63 503.06L147.74 503.85L147.86 503.07L147.97 502.51L148.09 500.86L148.21 501.45L148.32 502.72L148.44 502.53L148.56 502.44L148.67 502.86L148.79 501.59L148.91 502.9L149.02 502.99L149.14 499.78L149.26 501.96L149.37 501.44L149.49 502.61L149.61 502.15L149.72 502.89L149.84 501.67L149.96 502.4L150.07 500.59L150.19 502.13L150.3 499.63L150.42 502.38L150.54 499.4L150.65 500.66L150.77 500.59L150.89 500.65L151 499.73L151.12 500.98L151.24 502.37L151.35 500.22L151.47 500.27L151.59 501.26L151.7 500.43L151.82 500.7L151.94 500.26L152.05 500.34L152.17 499.07L152.29 500.72L152.4 499.7L152.52 499.66L152.63 500.84L152.75 501.81L152.87 500.44L152.98 499.13L153.1 498.73L153.22 499.2L153.33 498.45L153.45 498.86L153.57 501.08L153.68 500.3L153.8 498.76L153.92 500.86L154.03 501.57L154.15 498.93L154.27 500.88L154.38 498.6L154.5 499.68L154.62 498.73L154.73 500.27L154.85 501.43L154.96 498.37L155.08 501.06L155.2 500.03L155.31 499.15L155.43 501.1L155.55 500.57L155.66 498.09L155.78 500.53L155.9 497.93L156.01 500.02L156.13 500.11L156.25 498.56L156.36 500.59L156.48 499.31L156.6 500.55L156.71 498.71L156.83 500.18L156.95 498.33L157.06 499.5L157.18 499.29L157.29 498.43L157.41 497.71L157.53 498.99L157.64 497.18L157.76 498.01L157.88 498.43L157.99 497.32L158.11 497.34L158.23 498.76L158.34 498.97L158.46 498.15L158.58 500.07L158.69 499.24L158.81 496.74L158.93 497.65L159.04 499.26L159.16 499.63L159.28 499.15L159.39 498.78L159.51 496.89L159.62 497.96L159.74 496.64L159.86 498.55L159.97 497.19L160.09 498.54L160.21 493.84L160.32 498L160.44 497.98L160.56 497.19L160.67 496.06L160.79 495.94L160.91 496.49L161.02 496.93L161.14 499.22L161.26 497.97L161.37 498.61L161.49 498.61L161.61 498.82L161.72 496.61L161.84 498.68L161.95 496.99L162.07 498.31L162.19 496.53L162.3 498.74L162.42 499.09L162.54 495.67L162.65 499L162.77 497.1L162.89 498.62L163 497.9L163.12 498.52L163.24 498.47L163.35 497.04L163.47 496.05L163.59 497.34L163.7 498.03L163.82 496.76L163.94 495.66L164.05 495.64L164.17 495.17L164.28 497.2L164.4 495.5L164.52 495.88L164.63 495.61L164.75 495.96L164.87 495.47L164.98 497.41L165.1 496.13L165.22 498.28L165.33 498.13L165.45 497.98L165.57 497.16L165.68 495.95L165.8 494.85L165.92 496.45L166.03 496.81L166.15 495.52L166.27 496.85L166.38 496.42L166.5 496.56L166.61 497.92L166.73 497.85L166.85 496.05L166.96 497.2L167.08 496.63L167.2 496.19L167.31 495.19L167.43 497.87L167.55 491.99L167.66 494.33L167.78 495.63L167.9 496.68L168.01 495.6L168.13 495.91L168.25 494.95L168.36 497.33L168.48 496.65L168.6 496.06L168.71 496.11L168.83 495.07L168.94 493.93L169.06 496.3L169.18 494.47L169.29 495.09L169.41 494.62L169.53 495.1L169.64 493.96L169.76 497.24L169.88 494.54L169.99 497.24L170.11 495.71L170.23 493.61L170.34 496.9L170.46 495.54L170.58 495.74L170.69 495.49L170.81 495.89L170.93 496.77L171.04 493.96L171.16 494.97L171.27 496.51L171.39 493.43L171.51 493.52L171.62 495.34L171.74 493.76L171.86 493.61L171.97 496.66L172.09 495.36L172.21 493.32L172.32 494.17L172.44 493.81L172.56 493.92L172.67 494.46L172.79 495.3L172.91 495.26L173.02 494.61L173.14 494.39L173.26 495.14L173.37 494.67L173.49 495.2L173.6 495.51L173.72 493.67L173.84 495.37L173.95 493.27L174.07 493.63L174.19 493.97L174.3 492.63L174.42 494.5L174.54 495.29L174.65 495.73L174.77 492.98L174.89 493.5L175 494.01L175.12 495.44L175.24 493.17L175.35 495.57L175.47 495.11L175.59 493.92L175.7 495.4L175.82 493.69L175.93 492.41L176.05 494.43L176.17 493.11L176.28 492.57L176.4 494.7L176.52 495.57L176.63 494.69L176.75 494.66L176.87 493.79L176.98 494.49L177.1 493.64L177.22 494.88L177.33 492.32L177.45 493.43L177.57 493.43L177.68 492L177.8 494.38L177.92 491.88L178.03 492.41L178.15 493.62L178.26 492.59L178.38 493.4L178.5 493.96L178.61 491.75L178.73 491.77L178.85 494.93L178.96 494.8L179.08 494.73L179.2 494.02L179.31 494.91L179.43 492.58L179.55 491.52L179.66 491.97L179.78 493.18L179.9 493.15L180.01 493.13L180.13 493.22L180.25 492.46L180.36 493.24L180.48 493.23L180.59 491.44L180.71 494.49L180.83 493.74L180.94 491.52L181.06 491.47L181.18 491.79L181.29 494.84L181.41 492.74L181.53 492.65L181.64 491.47L181.76 492.96L181.88 494.73L181.99 491.66L182.11 494.73L182.23 491.78L182.34 492.9L182.46 492.02L182.58 494.76L182.69 491.85L182.81 491.7L182.92 493.5L183.04 494.66L183.16 493.74L183.27 492.77L183.39 492.21L183.51 493.81L183.62 494.01L183.74 493.71L183.86 491.76L183.97 493.74L184.09 493.65L184.21 493.65L184.32 493.9L184.44 493.45L184.56 491.89L184.67 491.64L184.79 494.23L184.91 493.61L185.02 492.98L185.14 493.12L185.25 491.14" stroke="#f9bc1f" stroke-width="1.05" fill="none"/>
<path d="M48.6 467.12L48.69 467.15L48.79 467.2L48.88 467.25L48.97 467.31L49.07 467.37L49.16 467.44L49.25 467.5L49.35 467.56L49.44 467.63L49.53 467.69L49.63 467.75L49.72 467.82L49.81 467.88L49.9 467.94L50 468.02L50.09 468.13L50.18 468.32L50.28 468.63L50.37 469.14L50.46 469.88L50.56 470.88L50.65 472.12L50.74 473.51L50.84 475L50.93 476.51L51.02 477.98L51.12 479.4L51.21 480.76L51.3 482.08L51.4 483.39L51.49 484.71L51.58 486.1L51.68 487.58L51.77 489.22L51.86 491.02L51.96 492.99L52.05 495.11L52.14 497.33L52.23 499.61L52.33 501.92L52.42 504.22L52.51 506.48L52.61 508.66L52.7 510.76L52.79 512.76L52.89 514.67L52.98 516.51L53.07 518.28L53.17 519.98L53.26 521.59L53.35 523.07L53.45 524.39L53.54 525.51L53.63 526.43L53.73 527.19L53.82 527.83L53.91 528.38L54.01 528.9L54.1 529.4L54.19 529.89L54.29 530.38L54.38 530.87L54.47 531.36L54.56 531.85L54.66 532.34L54.75 532.82L54.84 533.3L54.94 533.75L55.03 534.18L55.12 534.55L55.22 534.87L55.31 535.13L55.4 535.33L55.5 535.5L55.59 535.64L55.68 535.76L55.78 535.88L55.87 536L55.96 536.11L56.06 536.23L56.15 536.34L56.24 536.45L56.34 536.57L56.43 536.68L56.52 536.8L56.62 536.91L56.71 537.03L56.8 537.14L56.89 537.26L56.99 537.37L57.08 537.49L57.17 537.6L57.27 537.72L57.36 537.83L57.45 537.95L57.55 538.06L57.64 538.18L57.73 538.29L57.83 538.41L57.92 538.52L58.01 538.64L58.11 538.75L58.2 538.87L58.29 538.98L58.39 539.09L58.48 539.19L58.57 539.29L58.67 539.37L58.76 539.44L58.85 539.5L58.95 539.55L59.04 539.59L59.13 539.62L59.22 539.66L59.32 539.69L59.41 539.72L59.5 539.75L59.6 539.79L59.69 539.82L59.78 539.85L59.88 539.88L59.97 539.91L60.06 539.95L60.16 539.98L60.25 540.01L60.34 540.04L60.44 540.08L60.53 540.11L60.62 540.14L60.72 540.17L60.81 540.2L60.9 540.24L61 540.27L61.09 540.3L61.18 540.33L61.28 540.36L61.37 540.4L61.46 540.43L61.55 540.46L61.65 540.49L61.74 540.52L61.83 540.55L61.93 540.58L62.02 540.61L62.11 540.62L62.21 540.64L62.3 540.65L62.39 540.65L62.49 540.66L62.58 540.66L62.67 540.66L62.77 540.66L62.86 540.66L62.95 540.66L63.05 540.67L63.14 540.67L63.23 540.67L63.33 540.67L63.42 540.67L63.51 540.67L63.61 540.67L63.7 540.67L63.79 540.67L63.88 540.68L63.98 540.68L64.07 540.68L64.16 540.68L64.26 540.68L64.35 540.68L64.44 540.68L64.54 540.68L64.63 540.68L64.72 540.69L64.82 540.69L64.91 540.69L65 540.69L65.1 540.69L65.19 540.69L65.28 540.69L65.38 540.69L65.47 540.69L65.56 540.69L65.66 540.7L65.75 540.7L65.84 540.7L65.94 540.7L66.03 540.7L66.12 540.7L66.21 540.7L66.31 540.7L66.4 540.7L66.49 540.71L66.59 540.71L66.68 540.71L66.77 540.71L66.87 540.71L66.96 540.71L67.05 540.71L67.15 540.71L67.24 540.71L67.33 540.72L67.43 540.72L67.52 540.72L67.61 540.72L67.71 540.72L67.8 540.72L67.89 540.72L67.99 540.72L68.08 540.72L68.17 540.73L68.27 540.73L68.36 540.73L68.45 540.73L68.54 540.73L68.64 540.73L68.73 540.73L68.82 540.73L68.92 540.73L69.01 540.74L69.1 540.74L69.2 540.74L69.29 540.74L69.38 540.74L69.48 540.74L69.57 540.74L69.66 540.74L69.76 540.74L69.85 540.74L69.94 540.75L70.04 540.75L70.13 540.75L70.22 540.75L70.32 540.75L70.41 540.75L70.5 540.75L70.6 540.75L70.69 540.75L70.78 540.76L70.87 540.76L70.97 540.76L71.06 540.76L71.15 540.76L71.25 540.76L71.34 540.76L71.43 540.76L71.53 540.76L71.62 540.77L71.71 540.77L71.81 540.77L71.9 540.77L71.99 540.77L72.09 540.77L72.18 540.77L72.27 540.77L72.37 540.77L72.46 540.78L72.55 540.78L72.65 540.78L72.74 540.78L72.83 540.78L72.93 540.78L73.02 540.78L73.11 540.78L73.2 540.78L73.3 540.79L73.39 540.79L73.48 540.79L73.58 540.79L73.67 540.79L73.76 540.79L73.86 540.79L73.95 540.79L74.04 540.79L74.14 540.8L74.23 540.8L74.32 540.8L74.42 540.8L74.51 540.8L74.6 540.8L74.7 540.8L74.79 540.8L74.88 540.8L74.98 540.8L75.07 540.81L75.16 540.81L75.26 540.81L75.35 540.81L75.44 540.81L75.53 540.81L75.63 540.81L75.72 540.81L75.81 540.81L75.91 540.82L76 540.82L76.09 540.82L76.19 540.82L76.28 540.82L76.37 540.82L76.47 540.82L76.56 540.82L76.65 540.82L76.75 540.82L76.84 540.82L76.93 540.82L77.03 540.82L77.12 540.81L77.21 540.81L77.31 540.81L77.4 540.81L77.49 540.81L77.59 540.81L77.68 540.8L77.77 540.8L77.86 540.8L77.96 540.8L78.05 540.8L78.14 540.8L78.24 540.79L78.33 540.79L78.42 540.79L78.52 540.79L78.61 540.79L78.7 540.79L78.8 540.78L78.89 540.78L78.98 540.78L79.08 540.78L79.17 540.78L79.26 540.78L79.36 540.78L79.45 540.77L79.54 540.77L79.64 540.77L79.73 540.77L79.82 540.77L79.92 540.77L80.01 540.76L80.1 540.76L80.19 540.76L80.29 540.76L80.38 540.76L80.47 540.76L80.57 540.75L80.66 540.75L80.75 540.75L80.85 540.75L80.94 540.75L81.03 540.75L81.13 540.74L81.22 540.74L81.31 540.74L81.41 540.74L81.5 540.74L81.59 540.74L81.69 540.73L81.78 540.73L81.87 540.73L81.97 540.73L82.06 540.73L82.15 540.73L82.25 540.73L82.34 540.72L82.43 540.72L82.52 540.72L82.62 540.72L82.71 540.72L82.8 540.72L82.9 540.71L82.99 540.71L83.08 540.71L83.18 540.71L83.27 540.71L83.36 540.71L83.46 540.7L83.55 540.7L83.64 540.7L83.74 540.7L83.83 540.7L83.92 540.7L84.02 540.69L84.11 540.69L84.2 540.69L84.3 540.69L84.39 540.69L84.48 540.69L84.58 540.69L84.67 540.68L84.76 540.68L84.85 540.68L84.95 540.68L85.04 540.68L85.13 540.68L85.23 540.67L85.32 540.67L85.41 540.67L85.51 540.67L85.6 540.67L85.69 540.67L85.79 540.66L85.88 540.66L85.97 540.66L86.07 540.66L86.16 540.66L86.25 540.66L86.35 540.65L86.44 540.65L86.53 540.65L86.63 540.65L86.72 540.65L86.81 540.65L86.91 540.64L87 540.64L87.09 540.64L87.18 540.64L87.28 540.64L87.37 540.64L87.46 540.64L87.56 540.63L87.65 540.63L87.74 540.63L87.84 540.63L87.93 540.63L88.02 540.63L88.12 540.62L88.21 540.62L88.3 540.62L88.4 540.62L88.49 540.62L88.58 540.62L88.68 540.61L88.77 540.61L88.86 540.61L88.96 540.61L89.05 540.61L89.14 540.61L89.24 540.6L89.33 540.6L89.42 540.6L89.51 540.6L89.61 540.6L89.7 540.6L89.79 540.59L89.89 540.59L89.98 540.59L90.07 540.59L90.17 540.59L90.26 540.59L90.35 540.59L90.45 540.58L90.54 540.58L90.63 540.58L90.73 540.58L90.82 540.58L90.91 540.58L91.01 540.57L91.1 540.57L91.19 540.57L91.29 540.57L91.38 540.57L91.47 540.57L91.57 540.56L91.66 540.56L91.75 540.56L91.84 540.56L91.94 540.56L92.03 540.56L92.12 540.55L92.22 540.55L92.31 540.55L92.4 540.55L92.5 540.55L92.59 540.55L92.68 540.55L92.78 540.54L92.87 540.54L92.96 540.54L93.06 540.54L93.15 540.54L93.24 540.54L93.34 540.53L93.43 540.53L93.52 540.53L93.62 540.53L93.71 540.53L93.8 540.53L93.9 540.52L93.99 540.52L94.08 540.52L94.17 540.52L94.27 540.52L94.36 540.52L94.45 540.51L94.55 540.51L94.64 540.51L94.73 540.51L94.83 540.51L94.92 540.51L95.01 540.5L95.11 540.5L95.2 540.5L95.29 540.5L95.39 540.5L95.48 540.5L95.57 540.5L95.67 540.49L95.76 540.49L95.85 540.49L95.95 540.49L96.04 540.49L96.13 540.49L96.23 540.48L96.32 540.48L96.41 540.48L96.5 540.48L96.6 540.48L96.69 540.48L96.78 540.47L96.88 540.47L96.97 540.47L97.06 540.47L97.16 540.47L97.25 540.47L97.34 540.46L97.44 540.46L97.53 540.46L97.62 540.46L97.72 540.46L97.81 540.46L97.9 540.45L98 540.45L98.09 540.45L98.18 540.45L98.28 540.45L98.37 540.45L98.46 540.45L98.56 540.44L98.65 540.44L98.74 540.44L98.83 540.44L98.93 540.44L99.02 540.44L99.11 540.43L99.21 540.43L99.3 540.43L99.39 540.43L99.49 540.43L99.58 540.43L99.67 540.42L99.77 540.42L99.86 540.42L99.95 540.42L100.05 540.42L100.14 540.42L100.23 540.41L100.33 540.41L100.42 540.41L100.51 540.41L100.61 540.41L100.7 540.41L100.79 540.41L100.89 540.4L100.98 540.4" stroke="#13507e" stroke-width="1.5" fill="none"/>
<path d="M101 540.32L123.5 539.78" stroke="#13507e" stroke-width="1.45" fill="none" stroke-dasharray="1.6 1.2"/>
<path d="M123.5 539.78L128 539.67" stroke="#13507e" stroke-width="1.45" fill="none"/>
<path d="M128 539.67L136 539.48" stroke="#13507e" stroke-width="1.45" fill="none" stroke-dasharray="1.6 1.2"/>
<path d="M136 539.48L158.5 538.94" stroke="#13507e" stroke-width="1.45" fill="none"/>
<path d="M158.5 538.94L178.6 538.45" stroke="#13507e" stroke-width="1.45" fill="none" stroke-dasharray="1.6 1.2"/>
<path d="M178.6 538.45L189 538.2" stroke="#13507e" stroke-width="1.45" fill="none"/>
<line x1="191.4" y1="454.5" x2="201.5" y2="454.5" stroke="#f9bc1f" stroke-width="1.8"/>
<text x="204.22" y="457.5" font-size="7.85" textLength="49.69" lengthAdjust="spacingAndGlyphs">Caplacizumab*</text>
<line x1="191.4" y1="466.8" x2="201.5" y2="466.8" stroke="#13507e" stroke-width="1.5" stroke-dasharray="2.2 1.4"/>
<text x="204.57" y="469.6" font-size="7.85" textLength="23.45" lengthAdjust="spacingAndGlyphs">Vehicle</text>
<text x="311.41" y="451.8" font-size="11.2" textLength="8.48" lengthAdjust="spacingAndGlyphs" font-weight="bold" fill="#000">H</text>
<line x1="342.3" y1="455.7" x2="342.3" y2="552.85" stroke="#141213" stroke-width="1.3"/>
<line x1="339.1" y1="552.2" x2="342.3" y2="552.2" stroke="#141213" stroke-width="1"/>
<text x="331.17" y="554.95" font-size="8.6" textLength="4.34" lengthAdjust="spacingAndGlyphs">0</text>
<line x1="339.1" y1="521.6" x2="342.3" y2="521.6" stroke="#141213" stroke-width="1"/>
<text x="326.83" y="524.35" font-size="8.6" textLength="8.68" lengthAdjust="spacingAndGlyphs">20</text>
<line x1="339.1" y1="491" x2="342.3" y2="491" stroke="#141213" stroke-width="1"/>
<text x="326.83" y="493.75" font-size="8.6" textLength="8.68" lengthAdjust="spacingAndGlyphs">40</text>
<line x1="339.1" y1="460.4" x2="342.3" y2="460.4" stroke="#141213" stroke-width="1"/>
<text x="326.83" y="463.15" font-size="8.6" textLength="8.68" lengthAdjust="spacingAndGlyphs">60</text>
<line x1="340.3" y1="536.9" x2="342.3" y2="536.9" stroke="#141213" stroke-width="1"/>
<line x1="340.3" y1="506.3" x2="342.3" y2="506.3" stroke="#141213" stroke-width="1"/>
<line x1="340.3" y1="475.7" x2="342.3" y2="475.7" stroke="#141213" stroke-width="1"/>
<line x1="369.7" y1="552.2" x2="369.7" y2="554.8" stroke="#141213" stroke-width="1"/>
<line x1="452.7" y1="552.2" x2="452.7" y2="554.8" stroke="#141213" stroke-width="1"/>
<line x1="343.2" y1="469.4" x2="477" y2="469.4" stroke="#141213" stroke-width="1.1" stroke-dasharray="4.3 2.1" stroke-dashoffset="3.6"/>
<rect x="436.6" y="469.1" width="33.1" height="83.1" fill="#13507e" stroke="#0c4472" stroke-width="0.6"/>
<path d="M369.65 508.7V479.8M362.45 479.8H376.85" stroke="#808285" stroke-width="0.9" fill="none"/>
<rect x="353" y="507.7" width="33.3" height="44.5" fill="#f9bc1f" stroke="#f0b010" stroke-width="0.6"/>
<text x="481.57" y="472.3" font-size="8" textLength="25.42" lengthAdjust="spacingAndGlyphs">Cut-off</text>
<text x="446.57" y="464.4" font-size="8" textLength="12.86" lengthAdjust="spacingAndGlyphs">ND</text>
<text x="342.39" y="565.7" font-size="8.3" textLength="54.24" lengthAdjust="spacingAndGlyphs">Caplacizumab*</text>
<text x="440.27" y="565" font-size="8.3" textLength="26.09" lengthAdjust="spacingAndGlyphs">Vehicle</text>
<text transform="translate(320.8 532) rotate(-90)" x="-0.62" y="0" font-size="9" textLength="57.1" lengthAdjust="spacingAndGlyphs">Lysis times (min)</text>
<line x1="47.95" y1="261.9" x2="183.75" y2="261.9" stroke="#141213" stroke-width="1.3"/>
<line x1="341.75" y1="262" x2="476.5" y2="262" stroke="#141213" stroke-width="1.3"/>
<line x1="341.55" y1="405.1" x2="476.75" y2="405.1" stroke="#141213" stroke-width="1.3"/>
<line x1="341.65" y1="552.2" x2="476.6" y2="552.2" stroke="#141213" stroke-width="1.3"/>
<path d="M0 0H520V586H0Z M1.3 1.25H518.7V584.65H1.3Z" fill="#000" fill-rule="evenodd"/>
</svg>
</body></html>
